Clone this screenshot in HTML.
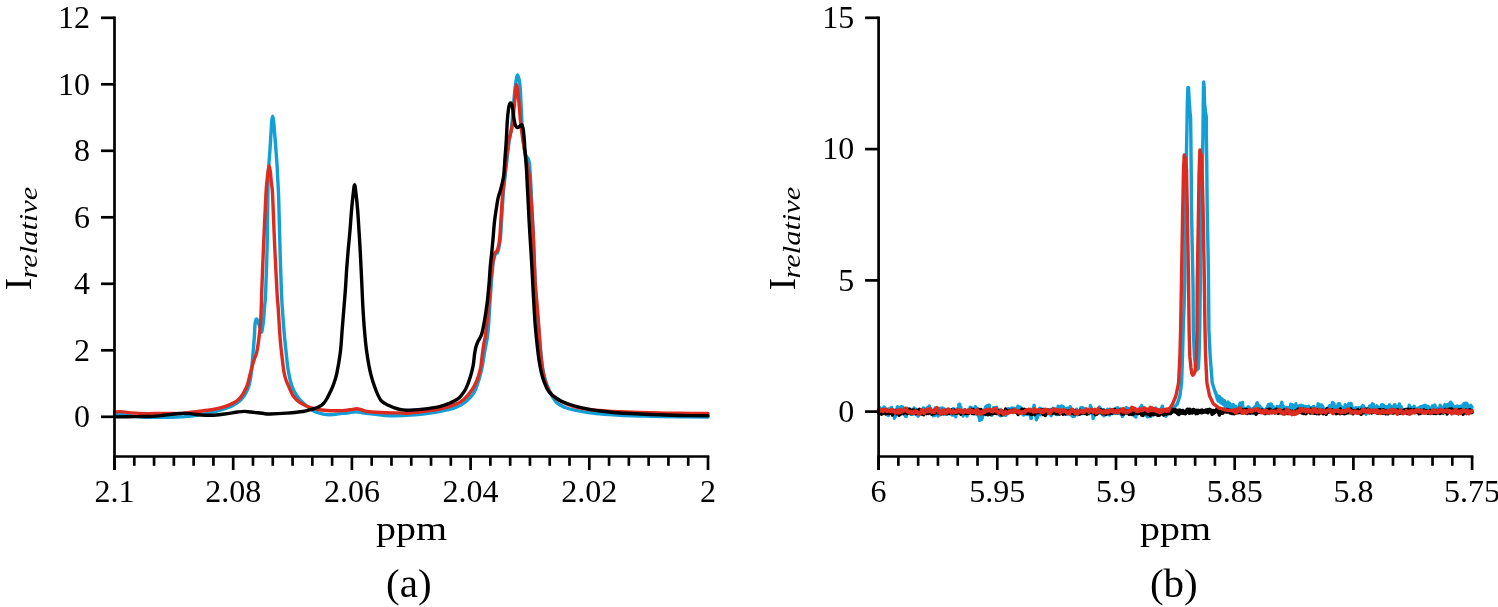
<!DOCTYPE html><html><head><meta charset="utf-8"><style>html,body{margin:0;padding:0;background:#fff;}svg{display:block;will-change:transform}</style></head><body>
<svg width="1498" height="607" viewBox="0 0 1498 607">
<rect width="1498" height="607" fill="#fff"/>
<path d="M114.50,414.50 C116.42,414.58 121.42,414.58 126.00,415.00 C130.58,415.42 135.77,416.60 142.00,417.00 C148.23,417.40 157.07,417.43 163.40,417.40 C169.73,417.37 176.40,416.93 180.00,416.80 C183.60,416.67 180.87,417.07 185.00,416.60 C189.13,416.13 199.97,414.80 204.80,414.00 C209.63,413.20 211.05,412.58 214.00,411.80 C216.95,411.02 219.42,410.33 222.50,409.30 C225.58,408.27 229.68,406.93 232.50,405.60 C235.32,404.27 237.48,402.90 239.40,401.30 C241.32,399.70 242.68,397.88 244.00,396.00 C245.32,394.12 246.40,392.00 247.30,390.00 C248.20,388.00 248.80,386.33 249.40,384.00 C250.00,381.67 250.52,378.50 250.90,376.00 C251.28,373.50 251.33,372.92 251.70,369.00 C252.07,365.08 252.65,358.00 253.10,352.50 C253.55,347.00 254.07,340.75 254.40,336.00 C254.73,331.25 254.77,326.83 255.10,324.00 C255.43,321.17 255.97,319.45 256.40,319.00 C256.83,318.55 257.18,320.13 257.70,321.30 C258.22,322.47 258.87,324.22 259.50,326.00 C260.13,327.78 261.00,331.67 261.50,332.00 C262.00,332.33 262.15,330.00 262.50,328.00 C262.85,326.00 263.25,323.60 263.60,320.00 C263.95,316.40 264.27,310.78 264.60,306.40 C264.93,302.02 265.17,304.05 265.60,293.70 C266.03,283.35 266.87,257.42 267.20,244.30 C267.53,231.18 267.47,225.35 267.60,215.00 C267.73,204.65 267.80,190.40 268.00,182.20 C268.20,174.00 268.47,171.28 268.80,165.80 C269.13,160.32 269.63,154.78 270.00,149.30 C270.37,143.82 270.70,137.62 271.00,132.90 C271.30,128.18 271.52,123.77 271.80,121.00 C272.08,118.23 272.40,116.30 272.70,116.30 C273.00,116.30 273.28,118.23 273.60,121.00 C273.92,123.77 274.22,128.18 274.60,132.90 C274.98,137.62 275.48,143.82 275.90,149.30 C276.32,154.78 276.77,160.32 277.10,165.80 C277.43,171.28 277.63,176.72 277.90,182.20 C278.17,187.68 278.37,188.35 278.70,198.70 C279.03,209.05 279.43,228.47 279.90,244.30 C280.37,260.13 280.95,281.08 281.50,293.70 C282.05,306.32 282.70,312.87 283.20,320.00 C283.70,327.13 284.00,331.00 284.50,336.50 C285.00,342.00 285.60,347.52 286.20,353.00 C286.80,358.48 287.17,363.92 288.10,369.40 C289.03,374.88 290.15,381.22 291.80,385.90 C293.45,390.58 295.58,394.20 298.00,397.50 C300.42,400.80 303.55,403.37 306.30,405.70 C309.05,408.03 311.77,410.12 314.50,411.50 C317.23,412.88 320.12,413.45 322.70,414.00 C325.28,414.55 326.75,414.90 330.00,414.80 C333.25,414.70 338.87,413.77 342.20,413.40 C345.53,413.03 347.58,412.88 350.00,412.60 C352.42,412.32 354.37,411.63 356.70,411.70 C359.03,411.77 360.85,412.57 364.00,413.00 C367.15,413.43 371.27,413.85 375.60,414.30 C379.93,414.75 384.85,415.53 390.00,415.70 C395.15,415.87 401.00,415.58 406.50,415.30 C412.00,415.02 417.52,414.63 423.00,414.00 C428.48,413.37 433.92,412.60 439.40,411.50 C444.88,410.40 451.50,409.03 455.90,407.40 C460.30,405.77 462.78,404.17 465.80,401.70 C468.82,399.23 471.80,396.32 474.00,392.60 C476.20,388.88 477.62,383.80 479.00,379.40 C480.38,375.00 481.35,370.87 482.30,366.20 C483.25,361.53 483.88,356.07 484.70,351.40 C485.52,346.73 486.55,342.60 487.20,338.20 C487.85,333.80 488.13,331.03 488.60,325.00 C489.07,318.97 489.55,308.83 490.00,302.00 C490.45,295.17 490.87,289.67 491.30,284.00 C491.73,278.33 492.15,272.25 492.60,268.00 C493.05,263.75 493.52,260.83 494.00,258.50 C494.48,256.17 494.92,255.00 495.50,254.00 C496.08,253.00 496.87,253.83 497.50,252.50 C498.13,251.17 498.80,248.58 499.30,246.00 C499.80,243.42 500.17,240.50 500.50,237.00 C500.83,233.50 500.85,232.12 501.30,225.00 C501.75,217.88 502.57,202.43 503.20,194.30 C503.83,186.17 504.45,182.20 505.10,176.20 C505.75,170.20 506.42,164.13 507.10,158.30 C507.78,152.47 508.47,146.25 509.20,141.20 C509.93,136.15 510.73,134.67 511.50,128.00 C512.27,121.33 513.13,108.42 513.80,101.20 C514.47,93.98 514.87,89.08 515.50,84.70 C516.13,80.32 516.87,74.90 517.60,74.90 C518.33,74.90 519.28,78.95 519.90,84.70 C520.52,90.45 520.85,101.15 521.30,109.40 C521.75,117.65 522.05,127.32 522.60,134.20 C523.15,141.08 523.95,146.98 524.60,150.70 C525.25,154.42 525.90,155.12 526.50,156.50 C527.10,157.88 527.70,157.75 528.20,159.00 C528.70,160.25 529.10,160.50 529.50,164.00 C529.90,167.50 530.22,173.17 530.60,180.00 C530.98,186.83 531.40,196.67 531.80,205.00 C532.20,213.33 532.60,220.83 533.00,230.00 C533.40,239.17 533.78,250.33 534.20,260.00 C534.62,269.67 535.00,279.67 535.50,288.00 C536.00,296.33 536.63,303.00 537.20,310.00 C537.77,317.00 538.33,323.33 538.90,330.00 C539.47,336.67 540.00,343.83 540.60,350.00 C541.20,356.17 541.77,362.17 542.50,367.00 C543.23,371.83 543.75,374.83 545.00,379.00 C546.25,383.17 548.08,388.08 550.00,392.00 C551.92,395.92 554.00,399.92 556.50,402.50 C559.00,405.08 561.93,406.22 565.00,407.50 C568.07,408.78 570.73,409.32 574.90,410.20 C579.07,411.08 584.98,412.12 590.00,412.80 C595.02,413.48 600.00,413.88 605.00,414.30 C610.00,414.72 614.17,415.02 620.00,415.30 C625.83,415.58 633.33,415.80 640.00,416.00 C646.67,416.20 648.67,416.33 660.00,416.50 C671.33,416.67 700.00,416.92 708.00,417.00" fill="none" stroke="#119fd6" stroke-width="3.40" stroke-linejoin="round" stroke-linecap="round"/>
<path d="M114.50,412.00 C115.53,411.93 117.88,411.45 120.70,411.60 C123.52,411.75 126.95,412.55 131.40,412.90 C135.85,413.25 142.95,413.62 147.40,413.70 C151.85,413.78 154.55,413.45 158.10,413.40 C161.65,413.35 165.05,413.37 168.70,413.40 C172.35,413.43 177.28,413.67 180.00,413.60 C182.72,413.53 181.97,413.37 185.00,413.00 C188.03,412.63 193.80,411.95 198.20,411.40 C202.60,410.85 207.57,410.32 211.40,409.70 C215.23,409.08 217.92,408.63 221.20,407.70 C224.48,406.77 228.35,405.35 231.10,404.10 C233.85,402.85 235.83,401.73 237.70,400.20 C239.57,398.67 240.98,396.77 242.30,394.90 C243.62,393.03 244.68,390.90 245.60,389.00 C246.52,387.10 247.10,385.75 247.80,383.50 C248.50,381.25 249.05,378.47 249.80,375.50 C250.55,372.53 251.53,368.45 252.30,365.70 C253.07,362.95 253.67,361.20 254.40,359.00 C255.13,356.80 255.97,355.78 256.70,352.50 C257.43,349.22 258.17,344.23 258.80,339.30 C259.43,334.37 260.08,328.38 260.50,322.90 C260.92,317.42 261.08,311.88 261.30,306.40 C261.52,300.92 261.42,300.35 261.80,290.00 C262.18,279.65 262.92,260.13 263.60,244.30 C264.28,228.47 265.35,205.35 265.90,195.00 C266.45,184.65 266.55,186.03 266.90,182.20 C267.25,178.37 267.62,174.77 268.00,172.00 C268.38,169.23 268.80,165.60 269.20,165.60 C269.60,165.60 270.05,169.23 270.40,172.00 C270.75,174.77 270.93,178.37 271.30,182.20 C271.67,186.03 272.05,184.65 272.60,195.00 C273.15,205.35 273.85,227.85 274.60,244.30 C275.35,260.75 276.52,283.35 277.10,293.70 C277.68,304.05 277.77,301.53 278.10,306.40 C278.43,311.27 278.75,317.42 279.10,322.90 C279.45,328.38 279.73,333.82 280.20,339.30 C280.67,344.78 281.27,350.32 281.90,355.80 C282.53,361.28 283.32,368.17 284.00,372.20 C284.68,376.23 285.25,377.72 286.00,380.00 C286.75,382.28 287.32,383.27 288.50,385.90 C289.68,388.53 291.23,393.05 293.10,395.80 C294.97,398.55 296.95,400.47 299.70,402.40 C302.45,404.33 306.32,406.17 309.60,407.40 C312.88,408.63 316.00,409.25 319.40,409.80 C322.80,410.35 326.20,410.57 330.00,410.70 C333.80,410.83 338.87,410.75 342.20,410.60 C345.53,410.45 347.58,410.10 350.00,409.80 C352.42,409.50 354.70,408.77 356.70,408.80 C358.70,408.83 359.97,409.52 362.00,410.00 C364.03,410.48 364.78,411.23 368.90,411.70 C373.02,412.17 381.52,412.60 386.70,412.80 C391.88,413.00 396.70,412.83 400.00,412.90 C403.30,412.97 402.67,413.43 406.50,413.20 C410.33,412.97 417.52,412.18 423.00,411.50 C428.48,410.82 433.92,410.33 439.40,409.10 C444.88,407.87 451.78,405.75 455.90,404.10 C460.02,402.45 461.35,401.67 464.10,399.20 C466.85,396.73 470.20,392.60 472.40,389.30 C474.60,386.00 475.93,382.97 477.30,379.40 C478.67,375.83 479.77,372.02 480.60,367.90 C481.43,363.78 481.75,358.82 482.30,354.70 C482.85,350.58 483.38,346.32 483.90,343.20 C484.42,340.08 484.85,339.77 485.40,336.00 C485.95,332.23 486.60,326.18 487.20,320.60 C487.80,315.02 488.48,308.53 489.00,302.50 C489.52,296.47 489.83,289.98 490.30,284.40 C490.77,278.82 491.38,272.73 491.80,269.00 C492.22,265.27 492.50,263.85 492.80,262.00 C493.10,260.15 493.25,259.40 493.60,257.90 C493.95,256.40 494.35,254.10 494.90,253.00 C495.45,251.90 496.28,252.53 496.90,251.30 C497.52,250.07 498.12,247.93 498.60,245.60 C499.08,243.27 499.47,240.73 499.80,237.30 C500.13,233.87 500.13,232.17 500.60,225.00 C501.07,217.83 501.95,202.43 502.60,194.30 C503.25,186.17 503.85,182.20 504.50,176.20 C505.15,170.20 505.82,164.13 506.50,158.30 C507.18,152.47 507.65,146.58 508.60,141.20 C509.55,135.82 511.18,132.67 512.20,126.00 C513.22,119.33 513.97,108.07 514.70,101.20 C515.43,94.33 515.92,84.80 516.60,84.80 C517.28,84.80 518.17,95.33 518.80,101.20 C519.43,107.07 519.80,114.12 520.40,120.00 C521.00,125.88 521.72,131.50 522.40,136.50 C523.08,141.50 523.82,145.87 524.50,150.00 C525.18,154.13 525.67,156.67 526.50,161.30 C527.33,165.93 528.82,172.30 529.50,177.80 C530.18,183.30 530.22,188.80 530.60,194.30 C530.98,199.80 531.40,204.85 531.80,210.80 C532.20,216.75 532.70,224.75 533.00,230.00 C533.30,235.25 533.35,236.40 533.60,242.30 C533.85,248.20 534.22,258.28 534.50,265.40 C534.78,272.52 534.90,278.73 535.30,285.00 C535.70,291.27 536.33,296.15 536.90,303.00 C537.47,309.85 538.13,318.42 538.70,326.10 C539.27,333.78 539.70,342.12 540.30,349.10 C540.90,356.08 541.35,362.18 542.30,368.00 C543.25,373.82 544.38,379.50 546.00,384.00 C547.62,388.50 549.50,392.08 552.00,395.00 C554.50,397.92 557.17,399.53 561.00,401.50 C564.83,403.47 570.00,405.42 575.00,406.80 C580.00,408.18 586.00,409.10 591.00,409.80 C596.00,410.50 600.17,410.67 605.00,411.00 C609.83,411.33 614.17,411.55 620.00,411.80 C625.83,412.05 633.33,412.30 640.00,412.50 C646.67,412.70 653.33,412.87 660.00,413.00 C666.67,413.13 672.00,413.22 680.00,413.30 C688.00,413.38 703.33,413.47 708.00,413.50" fill="none" stroke="#dd2c1f" stroke-width="3.40" stroke-linejoin="round" stroke-linecap="round"/>
<path d="M114.50,416.90 C118.20,416.85 130.33,416.68 136.70,416.60 C143.07,416.52 148.25,416.62 152.70,416.40 C157.15,416.18 159.83,415.70 163.40,415.30 C166.97,414.90 171.33,414.32 174.10,414.00 C176.87,413.68 177.35,413.47 180.00,413.40 C182.65,413.33 186.97,413.38 190.00,413.60 C193.03,413.82 194.63,414.42 198.20,414.70 C201.77,414.98 207.02,415.42 211.40,415.30 C215.78,415.18 220.12,414.55 224.50,414.00 C228.88,413.45 234.40,412.43 237.70,412.00 C241.00,411.57 242.10,411.40 244.30,411.40 C246.50,411.40 247.45,411.62 250.90,412.00 C254.35,412.38 261.82,413.37 265.00,413.70 C268.18,414.03 266.42,414.10 270.00,414.00 C273.58,413.90 281.00,413.52 286.50,413.10 C292.00,412.68 298.60,412.18 303.00,411.50 C307.40,410.82 310.17,409.83 312.90,409.00 C315.63,408.17 317.63,407.42 319.40,406.50 C321.17,405.58 322.23,404.83 323.50,403.50 C324.77,402.17 325.83,400.50 327.00,398.50 C328.17,396.50 329.45,393.75 330.50,391.50 C331.55,389.25 332.27,387.93 333.30,385.00 C334.33,382.07 335.52,379.45 336.70,373.90 C337.88,368.35 339.48,359.12 340.40,351.70 C341.32,344.28 341.60,336.82 342.20,329.40 C342.80,321.98 343.45,314.10 344.00,307.20 C344.55,300.30 345.05,294.42 345.50,288.00 C345.95,281.58 346.23,275.22 346.70,268.70 C347.17,262.18 347.73,255.48 348.30,248.90 C348.87,242.32 349.55,235.77 350.10,229.20 C350.65,222.63 351.05,215.70 351.60,209.50 C352.15,203.30 352.90,196.15 353.40,192.00 C353.90,187.85 354.20,184.60 354.60,184.60 C355.00,184.60 355.30,187.85 355.80,192.00 C356.30,196.15 357.08,203.30 357.60,209.50 C358.12,215.70 358.48,222.63 358.90,229.20 C359.32,235.77 359.73,242.32 360.10,248.90 C360.47,255.48 360.78,262.18 361.10,268.70 C361.42,275.22 361.70,281.58 362.00,288.00 C362.30,294.42 362.50,300.30 362.90,307.20 C363.30,314.10 363.77,321.98 364.40,329.40 C365.03,336.82 365.65,344.28 366.70,351.70 C367.75,359.12 369.22,367.62 370.70,373.90 C372.18,380.18 373.87,384.95 375.60,389.40 C377.33,393.85 378.88,397.92 381.10,400.60 C383.32,403.28 386.05,404.10 388.90,405.50 C391.75,406.90 395.27,408.22 398.20,409.00 C401.13,409.78 402.37,410.18 406.50,410.20 C410.63,410.22 417.52,409.70 423.00,409.10 C428.48,408.50 435.02,407.57 439.40,406.60 C443.78,405.63 446.28,404.53 449.30,403.30 C452.32,402.07 455.38,400.67 457.50,399.20 C459.62,397.73 460.58,396.30 462.00,394.50 C463.42,392.70 464.62,391.33 466.00,388.40 C467.38,385.47 469.10,380.73 470.30,376.90 C471.50,373.07 472.50,369.13 473.20,365.40 C473.90,361.67 474.07,357.48 474.50,354.50 C474.93,351.52 475.30,349.50 475.80,347.50 C476.30,345.50 476.83,344.05 477.50,342.50 C478.17,340.95 479.05,339.78 479.80,338.20 C480.55,336.62 481.22,335.93 482.00,333.00 C482.78,330.07 483.63,325.68 484.50,320.60 C485.37,315.52 486.45,308.53 487.20,302.50 C487.95,296.47 488.48,290.47 489.00,284.40 C489.52,278.33 489.87,271.20 490.30,266.10 C490.73,261.00 491.18,257.92 491.60,253.80 C492.02,249.68 492.32,246.78 492.80,241.40 C493.28,236.02 493.92,226.93 494.50,221.50 C495.08,216.07 495.70,212.72 496.30,208.80 C496.90,204.88 497.35,201.32 498.10,198.00 C498.85,194.68 499.88,192.53 500.80,188.90 C501.72,185.27 502.90,181.33 503.60,176.20 C504.30,171.07 504.55,164.13 505.00,158.10 C505.45,152.07 505.92,146.18 506.30,140.00 C506.68,133.82 506.93,126.17 507.30,121.00 C507.67,115.83 508.10,111.85 508.50,109.00 C508.90,106.15 509.32,104.90 509.70,103.90 C510.08,102.90 510.45,102.90 510.80,103.00 C511.15,103.10 511.45,103.33 511.80,104.50 C512.15,105.67 512.53,107.58 512.90,110.00 C513.27,112.42 513.57,116.42 514.00,119.00 C514.43,121.58 514.92,124.08 515.50,125.50 C516.08,126.92 516.83,127.33 517.50,127.50 C518.17,127.67 518.82,126.98 519.50,126.50 C520.18,126.02 521.02,124.35 521.60,124.60 C522.18,124.85 522.60,126.02 523.00,128.00 C523.40,129.98 523.63,132.33 524.00,136.50 C524.37,140.67 524.78,147.50 525.20,153.00 C525.62,158.50 526.15,164.00 526.50,169.50 C526.85,175.00 527.02,180.50 527.30,186.00 C527.58,191.50 527.92,197.00 528.20,202.50 C528.48,208.00 528.63,212.37 529.00,219.00 C529.37,225.63 529.93,234.57 530.40,242.30 C530.87,250.03 531.37,257.70 531.80,265.40 C532.23,273.10 532.67,282.23 533.00,288.50 C533.33,294.77 533.42,296.73 533.80,303.00 C534.18,309.27 534.67,318.42 535.30,326.10 C535.93,333.78 536.85,342.62 537.60,349.10 C538.35,355.58 538.98,360.35 539.80,365.00 C540.62,369.65 541.35,373.17 542.50,377.00 C543.65,380.83 545.37,385.25 546.70,388.00 C548.03,390.75 549.05,391.92 550.50,393.50 C551.95,395.08 553.48,396.17 555.40,397.50 C557.32,398.83 559.57,400.33 562.00,401.50 C564.43,402.67 567.00,403.53 570.00,404.50 C573.00,405.47 576.50,406.45 580.00,407.30 C583.50,408.15 586.83,408.90 591.00,409.60 C595.17,410.30 600.17,410.93 605.00,411.50 C609.83,412.07 614.17,412.58 620.00,413.00 C625.83,413.42 633.33,413.70 640.00,414.00 C646.67,414.30 653.33,414.55 660.00,414.80 C666.67,415.05 672.00,415.33 680.00,415.50 C688.00,415.67 703.33,415.75 708.00,415.80" fill="none" stroke="#000" stroke-width="3.40" stroke-linejoin="round" stroke-linecap="round"/>
<path d="M878.60,411.18 L878.85,409.84 L879.10,411.01 L879.35,408.00 L879.60,407.62 L879.85,412.79 L880.10,410.45 L880.35,409.79 L880.60,412.05 L880.85,413.26 L881.10,409.26 L881.35,410.86 L881.60,412.26 L881.85,409.69 L882.10,411.19 L882.35,410.20 L882.60,409.79 L882.85,408.43 L883.10,410.23 L883.35,409.08 L883.60,408.55 L883.85,408.31 L884.10,406.99 L884.35,410.31 L884.60,411.96 L884.85,407.98 L885.10,409.64 L885.35,410.69 L885.60,412.47 L885.85,410.32 L886.10,410.03 L886.35,411.70 L886.60,411.29 L886.85,411.87 L887.10,409.66 L887.35,413.27 L887.60,412.05 L887.85,411.67 L888.10,413.71 L888.35,415.49 L888.60,408.92 L888.85,411.83 L889.10,409.27 L889.35,409.01 L889.60,410.66 L889.85,412.00 L890.10,410.85 L890.35,410.19 L890.60,408.19 L890.85,410.74 L891.10,410.63 L891.35,408.62 L891.60,407.48 L891.85,413.53 L892.10,410.13 L892.35,412.35 L892.60,411.65 L892.85,411.55 L893.10,413.75 L893.35,413.96 L893.60,415.14 L893.85,413.59 L894.10,412.65 L894.35,418.19 L894.60,415.27 L894.85,416.14 L895.10,416.97 L895.35,414.95 L895.60,412.38 L895.85,409.36 L896.10,410.26 L896.35,413.76 L896.60,412.65 L896.85,412.41 L897.10,408.86 L897.35,406.74 L897.60,407.98 L897.85,408.04 L898.10,411.44 L898.35,408.01 L898.60,411.29 L898.85,408.39 L899.10,409.03 L899.35,410.13 L899.60,408.79 L899.85,407.40 L900.10,409.57 L900.35,410.46 L900.60,407.16 L900.85,408.97 L901.10,407.91 L901.35,406.69 L901.60,410.41 L901.85,410.47 L902.10,410.76 L902.35,410.92 L902.60,406.84 L902.85,409.86 L903.10,408.84 L903.35,408.68 L903.60,411.19 L903.85,413.40 L904.10,411.57 L904.35,414.24 L904.60,411.54 L904.85,409.00 L905.10,413.80 L905.35,415.95 L905.60,413.65 L905.85,412.56 L906.10,416.63 L906.35,412.02 L906.60,412.57 L906.85,408.57 L907.10,409.27 L907.35,408.45 L907.60,413.36 L907.85,412.87 L908.10,410.01 L908.35,409.59 L908.60,411.77 L908.85,411.44 L909.10,409.00 L909.35,409.25 L909.60,411.13 L909.85,413.42 L910.10,411.56 L910.35,413.16 L910.60,411.89 L910.85,409.58 L911.10,414.30 L911.35,412.16 L911.60,413.81 L911.85,412.50 L912.10,413.44 L912.35,411.43 L912.60,414.25 L912.85,411.61 L913.10,410.96 L913.35,412.44 L913.60,413.66 L913.85,411.45 L914.10,407.92 L914.35,409.12 L914.60,413.08 L914.85,410.40 L915.10,411.27 L915.35,411.27 L915.60,409.48 L915.85,409.24 L916.10,410.45 L916.35,414.17 L916.60,411.92 L916.85,413.63 L917.10,412.03 L917.35,415.14 L917.60,413.91 L917.85,412.67 L918.10,416.25 L918.35,413.45 L918.60,415.43 L918.85,413.66 L919.10,414.62 L919.35,414.17 L919.60,412.85 L919.85,413.83 L920.10,412.44 L920.35,412.52 L920.60,410.10 L920.85,411.09 L921.10,411.02 L921.35,413.89 L921.60,413.62 L921.85,410.41 L922.10,411.84 L922.35,409.67 L922.60,411.34 L922.85,409.77 L923.10,408.25 L923.35,409.78 L923.60,407.91 L923.85,410.46 L924.10,410.17 L924.35,409.15 L924.60,410.24 L924.85,411.19 L925.10,409.37 L925.35,410.77 L925.60,409.84 L925.85,411.76 L926.10,410.01 L926.35,410.86 L926.60,411.56 L926.85,413.42 L927.10,412.67 L927.35,412.06 L927.60,407.42 L927.85,409.07 L928.10,411.70 L928.35,409.82 L928.60,413.52 L928.85,410.11 L929.10,409.91 L929.35,405.94 L929.60,409.81 L929.85,409.71 L930.10,412.66 L930.35,409.55 L930.60,409.75 L930.85,408.77 L931.10,410.11 L931.35,412.29 L931.60,411.25 L931.85,413.20 L932.10,413.20 L932.35,411.98 L932.60,414.12 L932.85,414.09 L933.10,412.13 L933.35,415.89 L933.60,413.38 L933.85,411.42 L934.10,413.66 L934.35,413.01 L934.60,413.77 L934.85,415.45 L935.10,407.95 L935.35,412.95 L935.60,414.38 L935.85,409.58 L936.10,407.94 L936.35,411.57 L936.60,411.58 L936.85,412.45 L937.10,410.69 L937.35,411.56 L937.60,413.46 L937.85,414.57 L938.10,416.01 L938.35,412.89 L938.60,411.90 L938.85,408.78 L939.10,415.02 L939.35,412.82 L939.60,411.84 L939.85,410.22 L940.10,412.86 L940.35,408.11 L940.60,412.14 L940.85,412.75 L941.10,413.68 L941.35,414.10 L941.60,412.20 L941.85,411.50 L942.10,412.08 L942.35,407.83 L942.60,411.03 L942.85,411.72 L943.10,413.95 L943.35,411.66 L943.60,413.99 L943.85,412.24 L944.10,408.92 L944.35,408.91 L944.60,409.12 L944.85,411.59 L945.10,412.02 L945.35,414.24 L945.60,413.32 L945.85,409.82 L946.10,412.25 L946.35,411.29 L946.60,410.47 L946.85,410.66 L947.10,409.65 L947.35,411.59 L947.60,409.71 L947.85,410.61 L948.10,412.26 L948.35,412.94 L948.60,411.71 L948.85,412.01 L949.10,411.66 L949.35,413.75 L949.60,412.85 L949.85,411.77 L950.10,413.88 L950.35,413.97 L950.60,412.33 L950.85,410.65 L951.10,412.93 L951.35,413.89 L951.60,410.56 L951.85,410.63 L952.10,411.91 L952.35,415.05 L952.60,410.32 L952.85,411.85 L953.10,410.29 L953.35,408.70 L953.60,410.32 L953.85,410.78 L954.10,413.59 L954.35,413.97 L954.60,415.16 L954.85,412.41 L955.10,413.50 L955.35,412.63 L955.60,413.73 L955.85,416.77 L956.10,412.70 L956.35,413.80 L956.60,413.01 L956.85,410.08 L957.10,410.59 L957.35,408.89 L957.60,410.13 L957.85,409.96 L958.10,409.07 L958.35,407.26 L958.60,408.99 L958.85,404.58 L959.10,404.46 L959.35,405.73 L959.60,404.18 L959.85,404.71 L960.10,406.89 L960.35,407.73 L960.60,410.38 L960.85,407.30 L961.10,414.42 L961.35,412.82 L961.60,410.13 L961.85,412.93 L962.10,411.37 L962.35,414.36 L962.60,412.11 L962.85,413.55 L963.10,415.96 L963.35,415.22 L963.60,414.48 L963.85,413.59 L964.10,413.57 L964.35,413.40 L964.60,412.51 L964.85,412.61 L965.10,412.66 L965.35,409.99 L965.60,413.32 L965.85,413.25 L966.10,413.29 L966.35,413.10 L966.60,413.28 L966.85,413.27 L967.10,416.03 L967.35,412.55 L967.60,411.16 L967.85,413.00 L968.10,411.80 L968.35,410.07 L968.60,412.95 L968.85,410.62 L969.10,410.01 L969.35,410.57 L969.60,410.06 L969.85,409.85 L970.10,407.09 L970.35,407.57 L970.60,410.26 L970.85,411.13 L971.10,411.26 L971.35,410.97 L971.60,409.28 L971.85,408.12 L972.10,408.14 L972.35,409.99 L972.60,409.15 L972.85,411.32 L973.10,408.17 L973.35,408.41 L973.60,410.75 L973.85,409.25 L974.10,414.04 L974.35,409.56 L974.60,410.47 L974.85,409.65 L975.10,408.01 L975.35,406.75 L975.60,407.64 L975.85,411.22 L976.10,411.89 L976.35,413.28 L976.60,407.93 L976.85,411.56 L977.10,411.03 L977.35,412.69 L977.60,410.62 L977.85,413.17 L978.10,413.39 L978.35,414.26 L978.60,416.15 L978.85,414.18 L979.10,417.73 L979.35,415.52 L979.60,420.39 L979.85,413.71 L980.10,418.13 L980.35,417.20 L980.60,418.42 L980.85,419.64 L981.10,418.60 L981.35,417.48 L981.60,419.59 L981.85,414.63 L982.10,415.10 L982.35,418.17 L982.60,415.03 L982.85,410.14 L983.10,413.69 L983.35,410.85 L983.60,414.39 L983.85,413.61 L984.10,410.73 L984.35,412.56 L984.60,409.87 L984.85,411.89 L985.10,410.80 L985.35,409.13 L985.60,407.06 L985.85,409.42 L986.10,406.27 L986.35,409.11 L986.60,407.37 L986.85,410.73 L987.10,407.27 L987.35,405.70 L987.60,410.54 L987.85,410.01 L988.10,408.24 L988.35,412.61 L988.60,410.34 L988.85,409.32 L989.10,408.32 L989.35,405.07 L989.60,411.19 L989.85,412.48 L990.10,412.21 L990.35,411.56 L990.60,412.91 L990.85,410.67 L991.10,413.22 L991.35,414.48 L991.60,415.28 L991.85,413.28 L992.10,413.93 L992.35,413.78 L992.60,414.18 L992.85,410.47 L993.10,408.90 L993.35,409.08 L993.60,407.69 L993.85,407.85 L994.10,407.70 L994.35,408.01 L994.60,409.08 L994.85,409.02 L995.10,408.87 L995.35,408.91 L995.60,409.92 L995.85,410.18 L996.10,410.50 L996.35,407.67 L996.60,407.23 L996.85,411.14 L997.10,409.09 L997.35,411.30 L997.60,410.61 L997.85,413.20 L998.10,410.87 L998.35,409.89 L998.60,412.27 L998.85,412.24 L999.10,414.49 L999.35,412.84 L999.60,414.61 L999.85,415.45 L1000.10,415.57 L1000.35,414.42 L1000.60,415.83 L1000.85,412.82 L1001.10,413.09 L1001.35,412.65 L1001.60,414.02 L1001.85,413.25 L1002.10,413.92 L1002.35,412.19 L1002.60,412.95 L1002.85,411.25 L1003.10,412.00 L1003.35,411.23 L1003.60,413.45 L1003.85,413.99 L1004.10,415.04 L1004.35,413.04 L1004.60,412.28 L1004.85,413.06 L1005.10,413.42 L1005.35,413.46 L1005.60,415.41 L1005.85,412.43 L1006.10,414.98 L1006.35,414.49 L1006.60,410.52 L1006.85,413.78 L1007.10,413.27 L1007.35,412.92 L1007.60,410.94 L1007.85,411.88 L1008.10,408.71 L1008.35,409.72 L1008.60,409.91 L1008.85,412.18 L1009.10,408.86 L1009.35,410.31 L1009.60,409.18 L1009.85,409.32 L1010.10,409.63 L1010.35,410.77 L1010.60,408.59 L1010.85,411.30 L1011.10,409.32 L1011.35,408.54 L1011.60,409.42 L1011.85,408.73 L1012.10,408.56 L1012.35,408.03 L1012.60,410.85 L1012.85,411.52 L1013.10,408.71 L1013.35,410.87 L1013.60,408.29 L1013.85,410.95 L1014.10,410.56 L1014.35,411.52 L1014.60,410.68 L1014.85,411.92 L1015.10,411.36 L1015.35,412.03 L1015.60,410.25 L1015.85,410.69 L1016.10,408.78 L1016.35,411.82 L1016.60,412.23 L1016.85,409.62 L1017.10,411.01 L1017.35,409.22 L1017.60,407.90 L1017.85,406.13 L1018.10,411.21 L1018.35,406.53 L1018.60,410.64 L1018.85,408.82 L1019.10,410.41 L1019.35,408.18 L1019.60,408.70 L1019.85,409.53 L1020.10,409.19 L1020.35,407.30 L1020.60,410.92 L1020.85,409.50 L1021.10,410.24 L1021.35,408.33 L1021.60,408.25 L1021.85,408.80 L1022.10,409.08 L1022.35,411.51 L1022.60,411.47 L1022.85,414.23 L1023.10,411.29 L1023.35,412.25 L1023.60,415.13 L1023.85,411.74 L1024.10,412.56 L1024.35,413.33 L1024.60,411.96 L1024.85,411.57 L1025.10,414.24 L1025.35,413.48 L1025.60,412.33 L1025.85,411.01 L1026.10,411.54 L1026.35,412.61 L1026.60,410.03 L1026.85,409.82 L1027.10,413.65 L1027.35,414.49 L1027.60,413.90 L1027.85,411.33 L1028.10,413.16 L1028.35,411.00 L1028.60,411.88 L1028.85,410.81 L1029.10,412.23 L1029.35,414.38 L1029.60,413.11 L1029.85,412.27 L1030.10,413.80 L1030.35,415.99 L1030.60,415.93 L1030.85,418.25 L1031.10,417.77 L1031.35,418.41 L1031.60,411.42 L1031.85,412.26 L1032.10,411.25 L1032.35,413.46 L1032.60,414.69 L1032.85,411.30 L1033.10,411.73 L1033.35,413.18 L1033.60,406.65 L1033.85,410.21 L1034.10,405.30 L1034.35,411.63 L1034.60,412.14 L1034.85,413.27 L1035.10,414.43 L1035.35,414.44 L1035.60,416.32 L1035.85,415.86 L1036.10,416.71 L1036.35,419.76 L1036.60,415.33 L1036.85,416.67 L1037.10,413.44 L1037.35,418.18 L1037.60,415.35 L1037.85,413.18 L1038.10,413.90 L1038.35,414.93 L1038.60,413.65 L1038.85,412.31 L1039.10,411.70 L1039.35,412.54 L1039.60,408.10 L1039.85,408.96 L1040.10,411.57 L1040.35,411.57 L1040.60,412.53 L1040.85,414.80 L1041.10,410.92 L1041.35,411.21 L1041.60,408.92 L1041.85,410.82 L1042.10,410.76 L1042.35,409.89 L1042.60,411.51 L1042.85,412.95 L1043.10,410.40 L1043.35,411.31 L1043.60,409.31 L1043.85,413.69 L1044.10,409.35 L1044.35,409.33 L1044.60,412.71 L1044.85,410.72 L1045.10,411.54 L1045.35,409.51 L1045.60,412.46 L1045.85,410.92 L1046.10,410.23 L1046.35,411.61 L1046.60,410.42 L1046.85,412.73 L1047.10,414.01 L1047.35,410.16 L1047.60,409.73 L1047.85,412.13 L1048.10,413.35 L1048.35,410.02 L1048.60,411.83 L1048.85,412.61 L1049.10,413.71 L1049.35,413.26 L1049.60,409.89 L1049.85,410.51 L1050.10,412.53 L1050.35,409.44 L1050.60,414.37 L1050.85,413.10 L1051.10,415.70 L1051.35,414.03 L1051.60,411.43 L1051.85,410.64 L1052.10,409.62 L1052.35,409.59 L1052.60,410.98 L1052.85,413.70 L1053.10,408.18 L1053.35,410.63 L1053.60,412.11 L1053.85,411.12 L1054.10,409.32 L1054.35,409.65 L1054.60,410.17 L1054.85,409.27 L1055.10,413.73 L1055.35,412.09 L1055.60,410.44 L1055.85,409.31 L1056.10,410.29 L1056.35,411.73 L1056.60,414.62 L1056.85,411.62 L1057.10,411.69 L1057.35,412.51 L1057.60,411.61 L1057.85,409.37 L1058.10,406.15 L1058.35,411.70 L1058.60,410.79 L1058.85,409.52 L1059.10,409.25 L1059.35,407.69 L1059.60,407.40 L1059.85,407.02 L1060.10,410.05 L1060.35,409.65 L1060.60,408.68 L1060.85,409.21 L1061.10,408.72 L1061.35,408.41 L1061.60,406.02 L1061.85,408.82 L1062.10,408.98 L1062.35,408.53 L1062.60,408.98 L1062.85,406.58 L1063.10,406.46 L1063.35,409.85 L1063.60,407.59 L1063.85,409.29 L1064.10,409.16 L1064.35,409.72 L1064.60,410.74 L1064.85,410.71 L1065.10,408.47 L1065.35,414.29 L1065.60,412.33 L1065.85,409.30 L1066.10,410.67 L1066.35,408.82 L1066.60,410.67 L1066.85,408.27 L1067.10,412.15 L1067.35,414.18 L1067.60,411.25 L1067.85,410.82 L1068.10,411.40 L1068.35,408.48 L1068.60,412.90 L1068.85,407.99 L1069.10,409.53 L1069.35,408.79 L1069.60,411.08 L1069.85,407.56 L1070.10,406.73 L1070.35,407.30 L1070.60,409.32 L1070.85,410.70 L1071.10,412.93 L1071.35,415.18 L1071.60,415.36 L1071.85,413.32 L1072.10,413.93 L1072.35,416.00 L1072.60,413.98 L1072.85,413.07 L1073.10,416.51 L1073.35,415.93 L1073.60,414.61 L1073.85,413.00 L1074.10,412.87 L1074.35,416.23 L1074.60,412.15 L1074.85,413.11 L1075.10,411.33 L1075.35,411.85 L1075.60,412.14 L1075.85,411.08 L1076.10,411.75 L1076.35,410.54 L1076.60,409.19 L1076.85,410.50 L1077.10,412.12 L1077.35,414.83 L1077.60,411.54 L1077.85,410.71 L1078.10,411.15 L1078.35,411.48 L1078.60,413.45 L1078.85,411.43 L1079.10,414.13 L1079.35,413.31 L1079.60,412.46 L1079.85,411.12 L1080.10,411.91 L1080.35,411.39 L1080.60,412.35 L1080.85,407.71 L1081.10,412.06 L1081.35,411.98 L1081.60,411.73 L1081.85,413.71 L1082.10,411.75 L1082.35,407.42 L1082.60,409.85 L1082.85,411.00 L1083.10,409.90 L1083.35,408.08 L1083.60,409.30 L1083.85,409.41 L1084.10,409.38 L1084.35,410.68 L1084.60,409.42 L1084.85,410.59 L1085.10,410.99 L1085.35,413.18 L1085.60,409.30 L1085.85,411.01 L1086.10,413.42 L1086.35,411.49 L1086.60,411.65 L1086.85,414.13 L1087.10,412.42 L1087.35,411.86 L1087.60,410.38 L1087.85,412.25 L1088.10,413.30 L1088.35,413.60 L1088.60,411.32 L1088.85,411.14 L1089.10,413.25 L1089.35,413.62 L1089.60,413.22 L1089.85,409.24 L1090.10,410.25 L1090.35,405.53 L1090.60,408.85 L1090.85,407.59 L1091.10,407.20 L1091.35,410.94 L1091.60,411.34 L1091.85,410.83 L1092.10,411.47 L1092.35,412.27 L1092.60,412.82 L1092.85,415.08 L1093.10,418.63 L1093.35,414.13 L1093.60,414.56 L1093.85,416.08 L1094.10,416.02 L1094.35,415.75 L1094.60,412.67 L1094.85,413.32 L1095.10,411.80 L1095.35,410.66 L1095.60,413.80 L1095.85,412.92 L1096.10,413.97 L1096.35,413.63 L1096.60,411.74 L1096.85,412.03 L1097.10,410.40 L1097.35,409.69 L1097.60,409.44 L1097.85,411.81 L1098.10,409.73 L1098.35,408.46 L1098.60,409.17 L1098.85,409.94 L1099.10,411.35 L1099.35,407.07 L1099.60,408.64 L1099.85,408.90 L1100.10,407.90 L1100.35,410.61 L1100.60,409.23 L1100.85,409.35 L1101.10,413.47 L1101.35,410.46 L1101.60,412.50 L1101.85,413.12 L1102.10,411.31 L1102.35,412.02 L1102.60,414.71 L1102.85,413.01 L1103.10,411.48 L1103.35,409.81 L1103.60,412.80 L1103.85,413.65 L1104.10,415.71 L1104.35,414.52 L1104.60,412.90 L1104.85,411.74 L1105.10,411.58 L1105.35,410.75 L1105.60,411.66 L1105.85,411.79 L1106.10,411.86 L1106.35,412.03 L1106.60,411.23 L1106.85,410.16 L1107.10,412.43 L1107.35,414.37 L1107.60,409.18 L1107.85,411.69 L1108.10,411.78 L1108.35,412.04 L1108.60,413.07 L1108.85,412.89 L1109.10,412.09 L1109.35,414.95 L1109.60,415.05 L1109.85,410.47 L1110.10,409.11 L1110.35,412.06 L1110.60,410.47 L1110.85,412.22 L1111.10,410.43 L1111.35,413.29 L1111.60,412.05 L1111.85,409.62 L1112.10,410.48 L1112.35,413.45 L1112.60,412.12 L1112.85,413.18 L1113.10,410.67 L1113.35,411.77 L1113.60,410.54 L1113.85,412.85 L1114.10,411.61 L1114.35,410.28 L1114.60,410.96 L1114.85,408.93 L1115.10,412.03 L1115.35,413.24 L1115.60,410.66 L1115.85,412.30 L1116.10,408.20 L1116.35,411.02 L1116.60,411.31 L1116.85,410.00 L1117.10,412.81 L1117.35,409.71 L1117.60,407.59 L1117.85,408.72 L1118.10,412.20 L1118.35,410.83 L1118.60,413.19 L1118.85,409.26 L1119.10,410.84 L1119.35,412.22 L1119.60,410.75 L1119.85,412.08 L1120.10,408.92 L1120.35,410.10 L1120.60,411.35 L1120.85,414.14 L1121.10,410.13 L1121.35,413.91 L1121.60,414.88 L1121.85,411.61 L1122.10,412.91 L1122.35,416.60 L1122.60,414.66 L1122.85,409.07 L1123.10,413.25 L1123.35,412.16 L1123.60,414.93 L1123.85,412.73 L1124.10,412.91 L1124.35,411.27 L1124.60,412.06 L1124.85,410.27 L1125.10,409.95 L1125.35,411.07 L1125.60,411.15 L1125.85,409.01 L1126.10,410.80 L1126.35,407.54 L1126.60,410.37 L1126.85,409.90 L1127.10,413.38 L1127.35,409.79 L1127.60,410.12 L1127.85,409.23 L1128.10,413.09 L1128.35,410.97 L1128.60,408.53 L1128.85,410.53 L1129.10,409.86 L1129.35,414.10 L1129.60,412.98 L1129.85,409.03 L1130.10,412.10 L1130.35,413.25 L1130.60,411.65 L1130.85,412.16 L1131.10,410.46 L1131.35,412.16 L1131.60,411.61 L1131.85,410.98 L1132.10,412.17 L1132.35,412.27 L1132.60,412.27 L1132.85,410.17 L1133.10,409.84 L1133.35,412.42 L1133.60,413.10 L1133.85,408.55 L1134.10,411.65 L1134.35,415.93 L1134.60,415.19 L1134.85,413.07 L1135.10,415.46 L1135.35,412.31 L1135.60,413.07 L1135.85,417.01 L1136.10,413.38 L1136.35,413.93 L1136.60,411.29 L1136.85,411.22 L1137.10,410.91 L1137.35,412.40 L1137.60,409.59 L1137.85,413.37 L1138.10,411.26 L1138.35,410.62 L1138.60,410.87 L1138.85,412.41 L1139.10,412.51 L1139.35,409.36 L1139.60,412.50 L1139.85,412.37 L1140.10,412.23 L1140.35,410.05 L1140.60,406.97 L1140.85,409.62 L1141.10,407.84 L1141.35,408.74 L1141.60,405.55 L1141.85,407.55 L1142.10,408.10 L1142.35,407.03 L1142.60,409.31 L1142.85,411.92 L1143.10,410.51 L1143.35,409.90 L1143.60,414.66 L1143.85,408.13 L1144.10,410.82 L1144.35,413.51 L1144.60,411.20 L1144.85,409.09 L1145.10,412.27 L1145.35,413.88 L1145.60,412.06 L1145.85,415.21 L1146.10,414.16 L1146.35,414.23 L1146.60,411.03 L1146.85,413.56 L1147.10,415.85 L1147.35,416.95 L1147.60,415.24 L1147.85,413.93 L1148.10,414.98 L1148.35,414.16 L1148.60,416.54 L1148.85,412.97 L1149.10,415.35 L1149.35,411.55 L1149.60,412.68 L1149.85,416.59 L1150.10,413.89 L1150.35,413.93 L1150.60,408.63 L1150.85,412.26 L1151.10,416.21 L1151.35,410.67 L1151.60,409.87 L1151.85,413.22 L1152.10,412.84 L1152.35,411.73 L1152.60,410.03 L1152.85,409.79 L1153.10,410.11 L1153.35,412.99 L1153.60,411.76 L1153.85,414.07 L1154.10,410.81 L1154.35,411.80 L1154.60,409.53 L1154.85,409.40 L1155.10,409.70 L1155.35,408.59 L1155.60,409.16 L1155.85,408.10 L1156.10,411.43 L1156.35,411.77 L1156.60,410.42 L1156.85,411.67 L1157.10,409.16 L1157.35,409.75 L1157.60,413.07 L1157.85,413.86 L1158.10,412.86 L1158.35,411.06 L1158.60,413.53 L1158.85,411.02 L1159.10,411.86 L1159.35,413.62 L1159.60,411.23 L1159.85,410.45 L1160.10,412.53 L1160.35,409.27 L1160.60,411.09 L1160.85,410.29 L1161.10,411.63 L1161.35,408.16 L1161.60,411.41 L1161.85,411.21 L1162.10,406.71 L1162.35,406.15 L1162.60,409.88 L1162.85,414.27 L1163.10,411.81 L1163.35,413.48 L1163.60,413.78 L1163.85,414.73 L1164.10,413.00 L1164.35,413.32 L1164.60,414.40 L1164.85,415.13 L1165.10,414.75 L1165.35,414.74 L1165.60,414.36 L1165.85,416.31 L1166.10,414.67 L1166.35,415.39 L1166.60,409.43 L1166.85,415.06 L1167.10,409.08 L1167.35,413.24 L1167.60,412.22 L1167.85,413.93 L1169.00,409.60 L1172.60,408.50 L1175.00,406.50 L1177.30,403.90 L1179.90,396.00 L1181.60,382.80 L1182.50,356.40 L1183.20,330.00 L1184.30,300.00 L1184.80,280.00 L1185.00,240.00 L1185.30,209.50 L1186.30,160.00 L1187.00,125.00 L1187.40,100.00 L1187.90,87.50 L1188.60,88.00 L1189.10,100.00 L1190.00,112.00 L1190.60,118.00 L1190.90,140.00 L1191.30,180.00 L1191.50,209.50 L1192.30,250.00 L1193.10,290.00 L1193.30,330.00 L1194.40,356.40 L1195.50,366.00 L1197.00,369.80 L1198.40,368.30 L1199.00,356.40 L1199.70,330.00 L1200.40,280.00 L1200.80,209.50 L1202.20,170.00 L1202.90,140.00 L1203.20,110.00 L1203.40,90.00 L1203.70,82.00 L1204.20,88.00 L1204.50,103.00 L1205.50,112.00 L1206.30,117.00 L1206.30,131.00 L1206.70,159.00 L1207.20,209.50 L1208.40,270.00 L1208.90,330.00 L1210.20,356.40 L1212.20,382.80 L1215.50,393.30 L1215.75,392.37 L1216.00,393.66 L1216.25,394.92 L1216.50,396.50 L1216.75,396.91 L1217.00,395.11 L1217.25,399.07 L1217.50,396.87 L1217.75,399.65 L1218.00,400.57 L1218.25,400.89 L1218.50,398.97 L1218.75,400.21 L1219.00,397.31 L1219.25,396.47 L1219.50,399.10 L1219.75,401.18 L1220.00,401.54 L1220.25,400.41 L1220.50,402.32 L1220.75,401.56 L1221.00,403.08 L1221.25,398.25 L1221.50,399.81 L1221.75,399.60 L1222.00,399.55 L1222.25,403.57 L1222.50,400.11 L1222.75,399.87 L1223.00,400.96 L1223.25,404.01 L1223.50,402.17 L1223.75,404.54 L1224.00,404.11 L1224.25,402.67 L1224.50,400.62 L1224.75,403.28 L1225.00,402.53 L1225.25,407.11 L1225.50,403.72 L1225.75,403.52 L1226.00,405.87 L1226.25,405.33 L1226.50,404.16 L1226.75,407.35 L1227.00,406.56 L1227.25,405.99 L1227.50,404.58 L1227.75,404.04 L1228.00,402.04 L1228.25,406.36 L1228.50,406.11 L1228.75,404.05 L1229.00,405.64 L1229.25,411.35 L1229.50,404.55 L1229.75,403.37 L1230.00,406.66 L1230.25,405.66 L1230.50,405.67 L1230.50,407.13 L1230.80,407.99 L1231.10,408.12 L1231.40,405.30 L1231.70,407.85 L1232.00,408.41 L1232.30,408.41 L1232.60,407.23 L1232.90,406.90 L1233.20,404.34 L1233.50,407.04 L1233.80,406.27 L1234.10,407.59 L1234.40,407.27 L1234.70,409.24 L1235.00,408.15 L1235.30,406.71 L1235.60,406.24 L1235.90,407.77 L1236.20,410.23 L1236.50,409.83 L1236.80,411.53 L1237.10,407.95 L1237.40,409.75 L1237.70,407.71 L1238.00,409.17 L1238.30,409.53 L1238.60,408.36 L1238.90,409.17 L1239.20,407.71 L1239.50,404.42 L1239.80,404.90 L1240.10,403.21 L1240.40,406.26 L1240.70,405.52 L1241.00,407.27 L1241.30,406.09 L1241.60,403.02 L1241.90,406.04 L1242.20,405.19 L1242.50,402.37 L1242.80,407.04 L1243.10,408.75 L1243.40,410.46 L1243.70,408.38 L1244.00,409.24 L1244.30,408.95 L1244.60,408.60 L1244.90,409.76 L1245.20,410.86 L1245.50,411.00 L1245.80,411.96 L1246.10,409.72 L1246.40,408.53 L1246.70,413.00 L1247.00,411.52 L1247.30,408.81 L1247.60,408.94 L1247.90,409.56 L1248.20,406.67 L1248.50,408.03 L1248.80,411.70 L1249.10,409.72 L1249.40,408.57 L1249.70,411.81 L1250.00,408.30 L1250.30,409.50 L1250.60,409.72 L1250.90,411.06 L1251.20,409.49 L1251.50,410.39 L1251.80,411.01 L1252.10,412.88 L1252.40,410.72 L1252.70,412.46 L1253.00,408.78 L1253.30,410.58 L1253.60,412.78 L1253.90,409.32 L1254.20,407.61 L1254.50,408.10 L1254.80,406.86 L1255.10,406.93 L1255.40,407.78 L1255.70,407.87 L1256.00,407.19 L1256.30,405.82 L1256.60,403.96 L1256.90,403.30 L1257.20,402.77 L1257.50,406.68 L1257.80,407.12 L1258.10,406.16 L1258.40,405.18 L1258.70,408.03 L1259.00,406.97 L1259.30,408.10 L1259.60,405.89 L1259.90,407.78 L1260.20,407.33 L1260.50,408.62 L1260.80,408.75 L1261.10,408.70 L1261.40,407.94 L1261.70,411.00 L1262.00,409.37 L1262.30,410.43 L1262.60,409.89 L1262.90,411.38 L1263.20,412.12 L1263.50,409.72 L1263.80,410.08 L1264.10,409.91 L1264.40,411.87 L1264.70,412.93 L1265.00,412.87 L1265.30,411.83 L1265.60,413.72 L1265.90,411.17 L1266.20,409.03 L1266.50,408.36 L1266.80,408.84 L1267.10,409.22 L1267.40,409.37 L1267.70,406.37 L1268.00,408.40 L1268.30,404.67 L1268.60,404.49 L1268.90,405.44 L1269.20,406.22 L1269.50,406.62 L1269.80,404.24 L1270.10,405.50 L1270.40,406.35 L1270.70,407.64 L1271.00,404.63 L1271.30,404.11 L1271.60,407.09 L1271.90,407.47 L1272.20,407.23 L1272.50,408.37 L1272.80,408.60 L1273.10,406.55 L1273.40,408.93 L1273.70,409.36 L1274.00,411.45 L1274.30,412.46 L1274.60,410.80 L1274.90,409.42 L1275.20,412.50 L1275.50,410.99 L1275.80,408.65 L1276.10,410.36 L1276.40,409.42 L1276.70,408.36 L1277.00,406.50 L1277.30,409.13 L1277.60,408.72 L1277.90,406.72 L1278.20,408.02 L1278.50,408.34 L1278.80,409.62 L1279.10,411.05 L1279.40,407.54 L1279.70,409.03 L1280.00,406.86 L1280.30,407.82 L1280.60,405.17 L1280.90,407.16 L1281.20,405.33 L1281.50,405.71 L1281.80,402.27 L1282.10,404.03 L1282.40,405.27 L1282.70,407.36 L1283.00,405.98 L1283.30,406.11 L1283.60,409.26 L1283.90,409.50 L1284.20,410.39 L1284.50,407.95 L1284.80,410.98 L1285.10,411.34 L1285.40,411.98 L1285.70,409.06 L1286.00,407.91 L1286.30,409.09 L1286.60,408.12 L1286.90,407.47 L1287.20,409.72 L1287.50,407.66 L1287.80,407.59 L1288.10,410.84 L1288.40,410.23 L1288.70,411.77 L1289.00,412.55 L1289.30,412.37 L1289.60,410.81 L1289.90,407.98 L1290.20,407.67 L1290.50,407.15 L1290.80,404.17 L1291.10,404.53 L1291.40,406.47 L1291.70,406.66 L1292.00,407.54 L1292.30,404.66 L1292.60,405.79 L1292.90,406.21 L1293.20,407.77 L1293.50,406.36 L1293.80,410.17 L1294.10,406.88 L1294.40,411.58 L1294.70,408.68 L1295.00,407.73 L1295.30,408.07 L1295.60,406.19 L1295.90,403.80 L1296.20,407.03 L1296.50,405.79 L1296.80,406.19 L1297.10,408.15 L1297.40,407.91 L1297.70,407.32 L1298.00,408.08 L1298.30,409.88 L1298.60,410.04 L1298.90,409.40 L1299.20,407.42 L1299.50,405.71 L1299.80,410.89 L1300.10,408.64 L1300.40,406.16 L1300.70,408.14 L1301.00,408.22 L1301.30,406.44 L1301.60,405.30 L1301.90,407.50 L1302.20,406.48 L1302.50,408.48 L1302.80,408.20 L1303.10,406.30 L1303.40,406.08 L1303.70,406.34 L1304.00,408.08 L1304.30,408.07 L1304.60,409.63 L1304.90,410.40 L1305.20,407.70 L1305.50,408.03 L1305.80,406.44 L1306.10,407.88 L1306.40,406.95 L1306.70,408.68 L1307.00,408.34 L1307.30,407.50 L1307.60,407.97 L1307.90,410.01 L1308.20,406.57 L1308.50,406.19 L1308.80,407.82 L1309.10,410.20 L1309.40,409.81 L1309.70,409.54 L1310.00,411.49 L1310.30,411.20 L1310.60,410.35 L1310.90,410.80 L1311.20,407.58 L1311.50,410.09 L1311.80,408.06 L1312.10,410.15 L1312.40,411.45 L1312.70,408.48 L1313.00,409.81 L1313.30,406.57 L1313.60,409.71 L1313.90,406.40 L1314.20,407.67 L1314.50,409.59 L1314.80,409.02 L1315.10,409.61 L1315.40,408.90 L1315.70,409.02 L1316.00,409.88 L1316.30,409.53 L1316.60,410.16 L1316.90,409.74 L1317.20,407.58 L1317.50,408.55 L1317.80,410.46 L1318.10,403.82 L1318.40,405.93 L1318.70,407.35 L1319.00,407.31 L1319.30,406.57 L1319.60,404.64 L1319.90,405.79 L1320.20,405.85 L1320.50,406.72 L1320.80,408.44 L1321.10,406.57 L1321.40,405.97 L1321.70,405.05 L1322.00,407.72 L1322.30,407.15 L1322.60,406.90 L1322.90,406.63 L1323.20,408.20 L1323.50,409.77 L1323.80,409.33 L1324.10,411.32 L1324.40,412.48 L1324.70,413.34 L1325.00,413.21 L1325.30,411.79 L1325.60,411.14 L1325.90,414.00 L1326.20,414.16 L1326.50,413.55 L1326.80,411.68 L1327.10,410.27 L1327.40,409.54 L1327.70,410.28 L1328.00,410.24 L1328.30,408.05 L1328.60,410.09 L1328.90,408.11 L1329.20,406.24 L1329.50,407.53 L1329.80,405.64 L1330.10,407.51 L1330.40,407.70 L1330.70,411.02 L1331.00,405.61 L1331.30,407.05 L1331.60,405.66 L1331.90,405.47 L1332.20,405.06 L1332.50,402.47 L1332.80,405.85 L1333.10,406.98 L1333.40,404.07 L1333.70,403.48 L1334.00,404.07 L1334.30,405.88 L1334.60,406.00 L1334.90,407.26 L1335.20,407.62 L1335.50,408.59 L1335.80,409.21 L1336.10,409.00 L1336.40,408.76 L1336.70,407.26 L1337.00,407.51 L1337.30,406.35 L1337.60,408.52 L1337.90,407.09 L1338.20,404.03 L1338.50,403.92 L1338.80,408.01 L1339.10,406.12 L1339.40,403.70 L1339.70,404.17 L1340.00,405.74 L1340.30,407.99 L1340.60,409.12 L1340.90,406.23 L1341.20,406.93 L1341.50,411.53 L1341.80,408.84 L1342.10,410.66 L1342.40,408.50 L1342.70,409.22 L1343.00,412.09 L1343.30,411.13 L1343.60,408.67 L1343.90,407.84 L1344.20,410.48 L1344.50,410.43 L1344.80,409.82 L1345.10,404.61 L1345.40,409.21 L1345.70,407.27 L1346.00,406.07 L1346.30,405.58 L1346.60,405.92 L1346.90,407.69 L1347.20,408.53 L1347.50,407.38 L1347.80,409.01 L1348.10,407.77 L1348.40,406.56 L1348.70,403.73 L1349.00,404.29 L1349.30,406.66 L1349.60,405.95 L1349.90,405.06 L1350.20,403.80 L1350.50,407.16 L1350.80,405.83 L1351.10,403.38 L1351.40,409.05 L1351.70,405.51 L1352.00,411.39 L1352.30,409.87 L1352.60,409.69 L1352.90,407.91 L1353.20,409.86 L1353.50,412.35 L1353.80,411.74 L1354.10,410.61 L1354.40,408.18 L1354.70,409.48 L1355.00,409.88 L1355.30,409.65 L1355.60,409.42 L1355.90,409.56 L1356.20,407.73 L1356.50,409.95 L1356.80,412.52 L1357.10,408.55 L1357.40,410.64 L1357.70,412.64 L1358.00,410.73 L1358.30,408.45 L1358.60,411.40 L1358.90,407.57 L1359.20,411.46 L1359.50,410.43 L1359.80,411.07 L1360.10,410.15 L1360.40,409.04 L1360.70,411.94 L1361.00,410.91 L1361.30,408.58 L1361.60,406.91 L1361.90,410.73 L1362.20,406.53 L1362.50,406.30 L1362.80,405.61 L1363.10,406.46 L1363.40,406.00 L1363.70,408.52 L1364.00,407.25 L1364.30,409.06 L1364.60,408.40 L1364.90,408.00 L1365.20,409.60 L1365.50,411.72 L1365.80,413.29 L1366.10,414.15 L1366.40,410.80 L1366.70,410.77 L1367.00,410.40 L1367.30,413.08 L1367.60,410.93 L1367.90,410.51 L1368.20,410.38 L1368.50,410.49 L1368.80,407.83 L1369.10,407.37 L1369.40,406.80 L1369.70,405.92 L1370.00,411.24 L1370.30,409.56 L1370.60,407.75 L1370.90,409.79 L1371.20,407.36 L1371.50,408.62 L1371.80,407.88 L1372.10,406.60 L1372.40,403.73 L1372.70,407.52 L1373.00,406.24 L1373.30,404.48 L1373.60,406.70 L1373.90,408.78 L1374.20,409.60 L1374.50,409.19 L1374.80,408.58 L1375.10,409.88 L1375.40,408.07 L1375.70,409.18 L1376.00,410.18 L1376.30,406.59 L1376.60,407.92 L1376.90,405.82 L1377.20,406.87 L1377.50,407.10 L1377.80,408.85 L1378.10,409.07 L1378.40,408.67 L1378.70,410.72 L1379.00,409.32 L1379.30,408.30 L1379.60,410.15 L1379.90,410.52 L1380.20,408.66 L1380.50,409.32 L1380.80,406.70 L1381.10,407.77 L1381.40,404.86 L1381.70,407.45 L1382.00,404.77 L1382.30,406.38 L1382.60,409.07 L1382.90,406.75 L1383.20,406.64 L1383.50,405.01 L1383.80,406.46 L1384.10,409.04 L1384.40,410.51 L1384.70,410.73 L1385.00,406.38 L1385.30,409.05 L1385.60,407.46 L1385.90,410.20 L1386.20,411.03 L1386.50,410.55 L1386.80,408.37 L1387.10,407.76 L1387.40,406.59 L1387.70,406.42 L1388.00,408.18 L1388.30,409.74 L1388.60,407.73 L1388.90,407.86 L1389.20,405.45 L1389.50,404.80 L1389.80,407.01 L1390.10,406.57 L1390.40,407.21 L1390.70,407.24 L1391.00,408.89 L1391.30,406.77 L1391.60,409.44 L1391.90,407.37 L1392.20,409.64 L1392.50,407.63 L1392.80,409.36 L1393.10,407.70 L1393.40,406.75 L1393.70,408.63 L1394.00,407.15 L1394.30,404.97 L1394.60,408.05 L1394.90,404.72 L1395.20,405.65 L1395.50,406.71 L1395.80,406.84 L1396.10,408.69 L1396.40,406.62 L1396.70,408.44 L1397.00,410.48 L1397.30,409.07 L1397.60,409.89 L1397.90,409.14 L1398.20,406.27 L1398.50,407.23 L1398.80,407.19 L1399.10,405.82 L1399.40,403.87 L1399.70,405.61 L1400.00,407.78 L1400.30,406.70 L1400.60,407.85 L1400.90,408.26 L1401.20,406.61 L1401.50,409.72 L1401.80,410.63 L1402.10,411.80 L1402.40,410.74 L1402.70,410.41 L1403.00,410.16 L1403.30,411.80 L1403.60,411.20 L1403.90,412.53 L1404.20,411.25 L1404.50,409.55 L1404.80,409.61 L1405.10,412.61 L1405.40,409.95 L1405.70,410.57 L1406.00,411.19 L1406.30,410.35 L1406.60,409.54 L1406.90,410.54 L1407.20,413.10 L1407.50,410.03 L1407.80,408.87 L1408.10,409.91 L1408.40,410.01 L1408.70,407.48 L1409.00,407.03 L1409.30,405.17 L1409.60,408.17 L1409.90,408.85 L1410.20,409.72 L1410.50,407.46 L1410.80,411.97 L1411.10,409.79 L1411.40,407.68 L1411.70,408.52 L1412.00,408.64 L1412.30,407.73 L1412.60,410.11 L1412.90,408.07 L1413.20,409.41 L1413.50,410.74 L1413.80,408.99 L1414.10,406.30 L1414.40,407.01 L1414.70,407.95 L1415.00,409.49 L1415.30,409.67 L1415.60,408.28 L1415.90,409.24 L1416.20,411.36 L1416.50,408.59 L1416.80,411.63 L1417.10,410.20 L1417.40,411.02 L1417.70,408.22 L1418.00,410.96 L1418.30,410.45 L1418.60,408.93 L1418.90,408.06 L1419.20,408.91 L1419.50,408.54 L1419.80,409.24 L1420.10,407.47 L1420.40,406.71 L1420.70,406.57 L1421.00,408.66 L1421.30,408.77 L1421.60,406.90 L1421.90,408.00 L1422.20,411.86 L1422.50,408.11 L1422.80,410.18 L1423.10,406.04 L1423.40,406.92 L1423.70,407.03 L1424.00,409.25 L1424.30,408.85 L1424.60,409.00 L1424.90,405.18 L1425.20,407.96 L1425.50,405.37 L1425.80,408.64 L1426.10,408.35 L1426.40,408.22 L1426.70,406.97 L1427.00,408.36 L1427.30,406.70 L1427.60,407.57 L1427.90,407.69 L1428.20,406.29 L1428.50,408.19 L1428.80,407.72 L1429.10,408.37 L1429.40,410.46 L1429.70,407.97 L1430.00,408.56 L1430.30,409.47 L1430.60,409.95 L1430.90,408.22 L1431.20,409.14 L1431.50,409.50 L1431.80,407.12 L1432.10,407.81 L1432.40,405.91 L1432.70,408.10 L1433.00,406.66 L1433.30,408.13 L1433.60,407.85 L1433.90,408.15 L1434.20,410.55 L1434.50,408.86 L1434.80,404.98 L1435.10,406.29 L1435.40,407.74 L1435.70,409.90 L1436.00,407.96 L1436.30,408.81 L1436.60,408.48 L1436.90,409.67 L1437.20,408.21 L1437.50,408.81 L1437.80,409.23 L1438.10,410.75 L1438.40,409.92 L1438.70,411.04 L1439.00,408.10 L1439.30,408.76 L1439.60,408.54 L1439.90,410.30 L1440.20,405.18 L1440.50,407.09 L1440.80,407.65 L1441.10,409.39 L1441.40,410.63 L1441.70,412.68 L1442.00,411.87 L1442.30,412.41 L1442.60,411.14 L1442.90,409.62 L1443.20,409.77 L1443.50,406.76 L1443.80,409.81 L1444.10,407.90 L1444.40,408.10 L1444.70,405.38 L1445.00,404.54 L1445.30,405.84 L1445.60,406.87 L1445.90,407.57 L1446.20,406.68 L1446.50,407.07 L1446.80,408.52 L1447.10,406.69 L1447.40,407.41 L1447.70,404.41 L1448.00,405.28 L1448.30,406.75 L1448.60,404.97 L1448.90,406.22 L1449.20,403.63 L1449.50,404.54 L1449.80,404.26 L1450.10,403.56 L1450.40,403.94 L1450.70,402.10 L1451.00,402.54 L1451.30,403.64 L1451.60,407.04 L1451.90,403.82 L1452.20,405.71 L1452.50,406.48 L1452.80,405.00 L1453.10,406.33 L1453.40,407.39 L1453.70,406.66 L1454.00,408.59 L1454.30,410.41 L1454.60,410.70 L1454.90,410.63 L1455.20,410.80 L1455.50,407.32 L1455.80,408.53 L1456.10,406.60 L1456.40,406.29 L1456.70,407.59 L1457.00,406.80 L1457.30,406.00 L1457.60,410.54 L1457.90,411.06 L1458.20,407.36 L1458.50,409.99 L1458.80,408.16 L1459.10,408.85 L1459.40,406.64 L1459.70,410.19 L1460.00,410.19 L1460.30,411.93 L1460.60,409.77 L1460.90,407.24 L1461.20,407.63 L1461.50,405.91 L1461.80,406.97 L1462.10,407.78 L1462.40,407.28 L1462.70,408.57 L1463.00,404.62 L1463.30,405.05 L1463.60,405.31 L1463.90,404.99 L1464.20,403.38 L1464.50,404.48 L1464.80,406.57 L1465.10,407.24 L1465.40,406.76 L1465.70,403.14 L1466.00,406.31 L1466.30,405.04 L1466.60,407.47 L1466.90,403.38 L1467.20,406.16 L1467.50,408.90 L1467.80,408.01 L1468.10,408.83 L1468.40,407.91 L1468.70,410.38 L1469.00,406.25 L1469.30,406.34 L1469.60,406.21 L1469.90,406.08 L1470.20,409.71 L1470.50,408.00 L1470.80,405.17 L1471.10,407.53 L1471.40,407.21 L1471.70,407.66 L1472.00,407.08" fill="none" stroke="#119fd6" stroke-width="3.40" stroke-linejoin="round" stroke-linecap="round"/>
<path d="M878.60,412.70 L878.85,412.98 L879.10,413.35 L879.35,410.99 L879.60,410.76 L879.85,410.28 L880.10,412.73 L880.35,412.39 L880.60,412.23 L880.85,411.32 L881.10,413.54 L881.35,414.11 L881.60,412.34 L881.85,412.15 L882.10,413.75 L882.35,412.98 L882.60,413.80 L882.85,412.17 L883.10,412.85 L883.35,412.21 L883.60,411.97 L883.85,412.14 L884.10,412.42 L884.35,412.85 L884.60,412.03 L884.85,412.45 L885.10,411.88 L885.35,411.56 L885.60,413.89 L885.85,411.60 L886.10,413.96 L886.35,413.12 L886.60,410.06 L886.85,411.82 L887.10,412.24 L887.35,412.26 L887.60,412.14 L887.85,411.61 L888.10,413.19 L888.35,411.69 L888.60,412.47 L888.85,411.23 L889.10,411.27 L889.35,413.50 L889.60,412.19 L889.85,411.41 L890.10,412.01 L890.35,412.94 L890.60,411.95 L890.85,411.59 L891.10,413.02 L891.35,413.31 L891.60,412.42 L891.85,412.33 L892.10,412.22 L892.35,415.02 L892.60,412.42 L892.85,413.95 L893.10,412.21 L893.35,412.91 L893.60,410.65 L893.85,412.71 L894.10,412.55 L894.35,411.85 L894.60,411.80 L894.85,411.07 L895.10,411.06 L895.35,412.47 L895.60,411.39 L895.85,411.60 L896.10,411.65 L896.35,411.40 L896.60,411.19 L896.85,413.72 L897.10,410.87 L897.35,411.55 L897.60,411.82 L897.85,411.16 L898.10,411.02 L898.35,412.46 L898.60,412.71 L898.85,412.15 L899.10,415.27 L899.35,413.09 L899.60,413.42 L899.85,411.36 L900.10,413.04 L900.35,413.65 L900.60,411.72 L900.85,413.99 L901.10,411.69 L901.35,411.52 L901.60,412.64 L901.85,411.94 L902.10,413.44 L902.35,411.71 L902.60,412.72 L902.85,410.76 L903.10,412.48 L903.35,413.50 L903.60,412.38 L903.85,412.69 L904.10,413.05 L904.35,410.71 L904.60,410.59 L904.85,411.97 L905.10,412.18 L905.35,411.46 L905.60,410.77 L905.85,412.62 L906.10,410.35 L906.35,411.41 L906.60,411.65 L906.85,412.20 L907.10,411.20 L907.35,410.97 L907.60,413.67 L907.85,410.68 L908.10,412.00 L908.35,410.80 L908.60,410.46 L908.85,411.11 L909.10,411.20 L909.35,411.97 L909.60,409.17 L909.85,411.59 L910.10,411.60 L910.35,410.53 L910.60,411.26 L910.85,413.64 L911.10,413.41 L911.35,412.53 L911.60,412.07 L911.85,411.40 L912.10,412.76 L912.35,410.86 L912.60,410.37 L912.85,411.71 L913.10,410.17 L913.35,410.49 L913.60,412.56 L913.85,409.88 L914.10,411.53 L914.35,411.77 L914.60,412.06 L914.85,410.65 L915.10,412.07 L915.35,411.79 L915.60,413.89 L915.85,413.05 L916.10,411.86 L916.35,413.37 L916.60,413.19 L916.85,412.40 L917.10,411.98 L917.35,411.69 L917.60,410.25 L917.85,410.89 L918.10,412.45 L918.35,412.83 L918.60,413.42 L918.85,411.25 L919.10,412.21 L919.35,409.16 L919.60,411.01 L919.85,410.01 L920.10,411.96 L920.35,409.69 L920.60,410.75 L920.85,410.87 L921.10,412.36 L921.35,412.79 L921.60,411.45 L921.85,413.97 L922.10,412.44 L922.35,411.56 L922.60,412.70 L922.85,412.34 L923.10,413.33 L923.35,413.01 L923.60,414.80 L923.85,413.78 L924.10,412.17 L924.35,413.43 L924.60,413.31 L924.85,411.51 L925.10,411.91 L925.35,412.02 L925.60,410.24 L925.85,413.08 L926.10,412.36 L926.35,413.60 L926.60,411.92 L926.85,412.25 L927.10,412.44 L927.35,412.54 L927.60,411.64 L927.85,410.23 L928.10,413.49 L928.35,412.18 L928.60,412.54 L928.85,412.89 L929.10,412.38 L929.35,411.49 L929.60,411.64 L929.85,411.82 L930.10,409.94 L930.35,412.41 L930.60,410.73 L930.85,412.23 L931.10,411.11 L931.35,412.42 L931.60,411.48 L931.85,414.27 L932.10,412.38 L932.35,412.99 L932.60,411.50 L932.85,411.95 L933.10,412.16 L933.35,412.27 L933.60,412.18 L933.85,412.15 L934.10,413.66 L934.35,412.51 L934.60,412.43 L934.85,413.17 L935.10,412.14 L935.35,412.66 L935.60,412.17 L935.85,411.90 L936.10,412.46 L936.35,411.96 L936.60,411.43 L936.85,412.76 L937.10,411.93 L937.35,410.83 L937.60,411.83 L937.85,412.13 L938.10,412.73 L938.35,412.62 L938.60,412.33 L938.85,412.92 L939.10,411.97 L939.35,411.93 L939.60,413.22 L939.85,412.35 L940.10,412.77 L940.35,413.16 L940.60,413.44 L940.85,413.78 L941.10,412.19 L941.35,412.46 L941.60,413.30 L941.85,411.74 L942.10,411.60 L942.35,413.22 L942.60,412.05 L942.85,411.54 L943.10,413.13 L943.35,412.89 L943.60,413.45 L943.85,412.24 L944.10,412.28 L944.35,412.11 L944.60,412.47 L944.85,410.47 L945.10,411.41 L945.35,412.88 L945.60,411.57 L945.85,411.95 L946.10,412.30 L946.35,412.61 L946.60,411.55 L946.85,410.62 L947.10,413.97 L947.35,411.08 L947.60,413.20 L947.85,409.88 L948.10,411.65 L948.35,411.33 L948.60,413.06 L948.85,413.15 L949.10,412.25 L949.35,410.38 L949.60,410.40 L949.85,410.55 L950.10,411.07 L950.35,411.91 L950.60,410.76 L950.85,411.26 L951.10,413.07 L951.35,412.78 L951.60,409.83 L951.85,411.02 L952.10,411.59 L952.35,413.12 L952.60,411.61 L952.85,413.57 L953.10,412.08 L953.35,412.85 L953.60,410.78 L953.85,411.27 L954.10,412.60 L954.35,412.07 L954.60,409.95 L954.85,411.33 L955.10,411.65 L955.35,411.94 L955.60,410.97 L955.85,413.36 L956.10,412.26 L956.35,413.35 L956.60,412.60 L956.85,412.11 L957.10,411.88 L957.35,411.01 L957.60,412.83 L957.85,412.57 L958.10,412.73 L958.35,411.46 L958.60,410.90 L958.85,411.40 L959.10,411.34 L959.35,411.54 L959.60,412.64 L959.85,410.82 L960.10,411.70 L960.35,412.81 L960.60,413.09 L960.85,414.17 L961.10,412.80 L961.35,411.61 L961.60,411.10 L961.85,411.44 L962.10,412.28 L962.35,412.41 L962.60,412.07 L962.85,411.55 L963.10,412.12 L963.35,411.97 L963.60,412.45 L963.85,411.89 L964.10,411.50 L964.35,410.99 L964.60,413.32 L964.85,412.22 L965.10,412.18 L965.35,412.30 L965.60,413.55 L965.85,412.33 L966.10,412.87 L966.35,412.31 L966.60,413.02 L966.85,411.55 L967.10,412.83 L967.35,413.16 L967.60,413.31 L967.85,412.77 L968.10,412.33 L968.35,413.38 L968.60,412.71 L968.85,412.89 L969.10,410.42 L969.35,410.31 L969.60,412.04 L969.85,410.97 L970.10,410.73 L970.35,409.94 L970.60,412.37 L970.85,409.65 L971.10,410.65 L971.35,409.33 L971.60,410.69 L971.85,412.98 L972.10,413.44 L972.35,410.53 L972.60,410.18 L972.85,412.70 L973.10,410.60 L973.35,409.75 L973.60,411.97 L973.85,410.63 L974.10,410.79 L974.35,413.38 L974.60,411.70 L974.85,411.14 L975.10,411.90 L975.35,411.63 L975.60,413.04 L975.85,412.25 L976.10,413.63 L976.35,413.01 L976.60,413.64 L976.85,412.80 L977.10,411.76 L977.35,412.08 L977.60,411.67 L977.85,409.95 L978.10,410.39 L978.35,412.28 L978.60,409.25 L978.85,410.59 L979.10,410.09 L979.35,411.06 L979.60,410.05 L979.85,411.31 L980.10,411.08 L980.35,410.88 L980.60,410.69 L980.85,409.43 L981.10,411.71 L981.35,410.55 L981.60,411.43 L981.85,412.25 L982.10,412.91 L982.35,412.65 L982.60,413.40 L982.85,410.96 L983.10,413.00 L983.35,413.66 L983.60,412.72 L983.85,411.40 L984.10,412.83 L984.35,412.00 L984.60,411.78 L984.85,413.59 L985.10,412.40 L985.35,411.70 L985.60,411.88 L985.85,414.58 L986.10,411.72 L986.35,413.04 L986.60,412.67 L986.85,413.42 L987.10,411.97 L987.35,411.23 L987.60,411.66 L987.85,411.54 L988.10,414.85 L988.35,412.52 L988.60,411.79 L988.85,413.06 L989.10,412.42 L989.35,411.93 L989.60,412.85 L989.85,412.57 L990.10,413.71 L990.35,414.11 L990.60,412.10 L990.85,412.20 L991.10,411.94 L991.35,413.07 L991.60,412.47 L991.85,413.23 L992.10,413.51 L992.35,412.31 L992.60,412.90 L992.85,413.72 L993.10,413.31 L993.35,413.02 L993.60,411.86 L993.85,412.26 L994.10,411.81 L994.35,412.22 L994.60,412.59 L994.85,411.19 L995.10,413.21 L995.35,411.51 L995.60,412.26 L995.85,412.79 L996.10,412.10 L996.35,411.15 L996.60,413.61 L996.85,412.94 L997.10,412.14 L997.35,413.46 L997.60,413.17 L997.85,411.27 L998.10,412.10 L998.35,410.62 L998.60,412.12 L998.85,413.46 L999.10,411.32 L999.35,412.68 L999.60,410.40 L999.85,411.67 L1000.10,412.88 L1000.35,413.77 L1000.60,412.59 L1000.85,413.03 L1001.10,414.14 L1001.35,410.41 L1001.60,410.88 L1001.85,414.09 L1002.10,414.91 L1002.35,413.00 L1002.60,412.51 L1002.85,412.60 L1003.10,412.45 L1003.35,411.93 L1003.60,412.18 L1003.85,412.02 L1004.10,412.65 L1004.35,412.48 L1004.60,412.70 L1004.85,412.51 L1005.10,410.85 L1005.35,412.67 L1005.60,409.03 L1005.85,411.70 L1006.10,411.74 L1006.35,410.84 L1006.60,412.84 L1006.85,410.49 L1007.10,410.64 L1007.35,411.10 L1007.60,412.06 L1007.85,412.34 L1008.10,411.68 L1008.35,412.35 L1008.60,411.27 L1008.85,411.25 L1009.10,411.74 L1009.35,410.47 L1009.60,411.84 L1009.85,411.66 L1010.10,412.22 L1010.35,410.51 L1010.60,411.36 L1010.85,411.34 L1011.10,411.75 L1011.35,411.04 L1011.60,411.65 L1011.85,410.39 L1012.10,411.91 L1012.35,412.09 L1012.60,411.41 L1012.85,411.03 L1013.10,410.24 L1013.35,410.31 L1013.60,411.17 L1013.85,410.40 L1014.10,409.85 L1014.35,411.06 L1014.60,411.03 L1014.85,410.67 L1015.10,410.57 L1015.35,411.45 L1015.60,410.74 L1015.85,411.30 L1016.10,411.94 L1016.35,412.43 L1016.60,412.57 L1016.85,411.41 L1017.10,413.09 L1017.35,411.00 L1017.60,411.79 L1017.85,413.31 L1018.10,414.49 L1018.35,412.49 L1018.60,412.04 L1018.85,412.18 L1019.10,411.02 L1019.35,411.97 L1019.60,411.66 L1019.85,411.28 L1020.10,413.06 L1020.35,410.89 L1020.60,413.13 L1020.85,412.16 L1021.10,411.84 L1021.35,410.79 L1021.60,410.70 L1021.85,409.28 L1022.10,411.54 L1022.35,411.29 L1022.60,412.06 L1022.85,411.32 L1023.10,412.30 L1023.35,410.31 L1023.60,409.88 L1023.85,412.39 L1024.10,413.09 L1024.35,409.27 L1024.60,413.05 L1024.85,411.53 L1025.10,411.89 L1025.35,410.48 L1025.60,411.02 L1025.85,412.48 L1026.10,410.96 L1026.35,411.78 L1026.60,411.73 L1026.85,413.41 L1027.10,412.62 L1027.35,410.46 L1027.60,411.27 L1027.85,411.00 L1028.10,410.85 L1028.35,411.29 L1028.60,412.96 L1028.85,411.90 L1029.10,412.60 L1029.35,411.77 L1029.60,411.45 L1029.85,411.94 L1030.10,412.25 L1030.35,414.05 L1030.60,414.19 L1030.85,412.68 L1031.10,412.86 L1031.35,410.53 L1031.60,412.25 L1031.85,414.48 L1032.10,411.58 L1032.35,413.02 L1032.60,413.75 L1032.85,412.25 L1033.10,412.24 L1033.35,412.20 L1033.60,413.25 L1033.85,412.27 L1034.10,413.86 L1034.35,413.35 L1034.60,412.14 L1034.85,414.52 L1035.10,412.04 L1035.35,411.59 L1035.60,411.92 L1035.85,411.09 L1036.10,411.47 L1036.35,411.74 L1036.60,412.38 L1036.85,410.22 L1037.10,410.63 L1037.35,411.03 L1037.60,411.38 L1037.85,411.98 L1038.10,410.99 L1038.35,412.63 L1038.60,411.07 L1038.85,411.33 L1039.10,411.66 L1039.35,412.53 L1039.60,411.76 L1039.85,411.39 L1040.10,410.88 L1040.35,411.34 L1040.60,411.69 L1040.85,411.20 L1041.10,411.46 L1041.35,409.74 L1041.60,411.43 L1041.85,412.76 L1042.10,413.00 L1042.35,411.59 L1042.60,409.71 L1042.85,413.72 L1043.10,411.96 L1043.35,414.46 L1043.60,411.73 L1043.85,413.12 L1044.10,411.72 L1044.35,413.93 L1044.60,413.88 L1044.85,411.76 L1045.10,414.18 L1045.35,415.65 L1045.60,412.85 L1045.85,412.19 L1046.10,413.18 L1046.35,412.25 L1046.60,411.28 L1046.85,411.75 L1047.10,412.69 L1047.35,410.87 L1047.60,413.01 L1047.85,412.19 L1048.10,411.56 L1048.35,412.85 L1048.60,410.78 L1048.85,412.21 L1049.10,410.33 L1049.35,411.46 L1049.60,412.59 L1049.85,411.18 L1050.10,411.48 L1050.35,412.23 L1050.60,413.00 L1050.85,413.19 L1051.10,412.44 L1051.35,411.81 L1051.60,410.62 L1051.85,413.50 L1052.10,413.50 L1052.35,409.83 L1052.60,412.56 L1052.85,411.75 L1053.10,412.51 L1053.35,412.44 L1053.60,411.94 L1053.85,412.35 L1054.10,411.75 L1054.35,412.78 L1054.60,411.65 L1054.85,411.69 L1055.10,412.72 L1055.35,412.99 L1055.60,412.76 L1055.85,412.54 L1056.10,413.71 L1056.35,413.38 L1056.60,412.18 L1056.85,411.87 L1057.10,412.59 L1057.35,410.57 L1057.60,411.83 L1057.85,411.52 L1058.10,412.13 L1058.35,411.70 L1058.60,414.16 L1058.85,412.46 L1059.10,412.34 L1059.35,414.19 L1059.60,412.12 L1059.85,411.84 L1060.10,413.38 L1060.35,412.96 L1060.60,413.04 L1060.85,413.33 L1061.10,411.91 L1061.35,411.64 L1061.60,411.53 L1061.85,412.36 L1062.10,413.16 L1062.35,411.18 L1062.60,411.52 L1062.85,411.00 L1063.10,414.26 L1063.35,412.88 L1063.60,412.22 L1063.85,410.84 L1064.10,411.30 L1064.35,411.43 L1064.60,412.19 L1064.85,411.08 L1065.10,412.12 L1065.35,413.79 L1065.60,412.63 L1065.85,412.73 L1066.10,410.79 L1066.35,412.45 L1066.60,412.86 L1066.85,412.42 L1067.10,412.01 L1067.35,413.10 L1067.60,412.08 L1067.85,412.50 L1068.10,411.40 L1068.35,412.54 L1068.60,413.15 L1068.85,411.49 L1069.10,412.68 L1069.35,410.86 L1069.60,412.74 L1069.85,412.58 L1070.10,411.64 L1070.35,412.54 L1070.60,410.83 L1070.85,411.88 L1071.10,413.10 L1071.35,411.51 L1071.60,410.75 L1071.85,412.92 L1072.10,412.39 L1072.35,411.54 L1072.60,410.07 L1072.85,409.84 L1073.10,410.31 L1073.35,413.46 L1073.60,412.51 L1073.85,411.59 L1074.10,413.77 L1074.35,414.06 L1074.60,412.06 L1074.85,413.10 L1075.10,411.07 L1075.35,412.70 L1075.60,413.97 L1075.85,411.07 L1076.10,412.39 L1076.35,411.60 L1076.60,411.77 L1076.85,411.74 L1077.10,411.92 L1077.35,412.38 L1077.60,412.23 L1077.85,412.79 L1078.10,412.89 L1078.35,413.00 L1078.60,411.66 L1078.85,412.82 L1079.10,412.00 L1079.35,411.74 L1079.60,414.17 L1079.85,412.47 L1080.10,412.28 L1080.35,410.31 L1080.60,411.90 L1080.85,412.79 L1081.10,411.94 L1081.35,411.29 L1081.60,413.33 L1081.85,411.63 L1082.10,411.55 L1082.35,411.98 L1082.60,411.78 L1082.85,413.03 L1083.10,412.86 L1083.35,412.36 L1083.60,411.92 L1083.85,411.97 L1084.10,413.61 L1084.35,411.63 L1084.60,412.69 L1084.85,410.67 L1085.10,412.29 L1085.35,412.60 L1085.60,412.97 L1085.85,412.39 L1086.10,412.63 L1086.35,412.28 L1086.60,413.19 L1086.85,414.09 L1087.10,412.36 L1087.35,411.45 L1087.60,412.62 L1087.85,412.16 L1088.10,412.83 L1088.35,413.07 L1088.60,412.33 L1088.85,411.60 L1089.10,412.18 L1089.35,410.79 L1089.60,412.33 L1089.85,410.73 L1090.10,412.00 L1090.35,411.82 L1090.60,411.62 L1090.85,410.46 L1091.10,411.51 L1091.35,410.65 L1091.60,411.18 L1091.85,411.99 L1092.10,412.34 L1092.35,410.21 L1092.60,412.39 L1092.85,412.33 L1093.10,412.40 L1093.35,411.79 L1093.60,411.36 L1093.85,413.14 L1094.10,411.49 L1094.35,410.56 L1094.60,412.17 L1094.85,412.30 L1095.10,411.48 L1095.35,411.52 L1095.60,414.64 L1095.85,412.72 L1096.10,413.72 L1096.35,412.52 L1096.60,411.70 L1096.85,412.94 L1097.10,414.03 L1097.35,412.44 L1097.60,411.19 L1097.85,412.58 L1098.10,412.51 L1098.35,412.41 L1098.60,411.11 L1098.85,411.64 L1099.10,411.52 L1099.35,412.61 L1099.60,411.94 L1099.85,412.46 L1100.10,411.73 L1100.35,410.05 L1100.60,409.96 L1100.85,412.22 L1101.10,412.47 L1101.35,412.53 L1101.60,411.54 L1101.85,410.13 L1102.10,411.38 L1102.35,412.43 L1102.60,413.72 L1102.85,412.18 L1103.10,411.69 L1103.35,411.32 L1103.60,412.80 L1103.85,412.46 L1104.10,410.22 L1104.35,413.11 L1104.60,411.14 L1104.85,410.78 L1105.10,410.76 L1105.35,411.37 L1105.60,414.18 L1105.85,414.48 L1106.10,411.00 L1106.35,411.73 L1106.60,412.58 L1106.85,413.00 L1107.10,412.64 L1107.35,411.32 L1107.60,412.43 L1107.85,412.25 L1108.10,411.29 L1108.35,412.93 L1108.60,411.50 L1108.85,410.80 L1109.10,413.57 L1109.35,412.90 L1109.60,413.38 L1109.85,412.10 L1110.10,411.46 L1110.35,411.67 L1110.60,410.62 L1110.85,412.34 L1111.10,411.80 L1111.35,411.18 L1111.60,409.89 L1111.85,411.53 L1112.10,413.32 L1112.35,413.07 L1112.60,412.39 L1112.85,411.14 L1113.10,411.68 L1113.35,411.99 L1113.60,411.85 L1113.85,412.60 L1114.10,411.06 L1114.35,409.50 L1114.60,409.40 L1114.85,410.61 L1115.10,410.16 L1115.35,411.89 L1115.60,412.38 L1115.85,411.58 L1116.10,412.13 L1116.35,411.78 L1116.60,412.04 L1116.85,411.37 L1117.10,411.39 L1117.35,412.74 L1117.60,411.28 L1117.85,411.34 L1118.10,412.32 L1118.35,412.32 L1118.60,411.19 L1118.85,411.78 L1119.10,410.58 L1119.35,411.70 L1119.60,411.95 L1119.85,411.38 L1120.10,411.89 L1120.35,412.16 L1120.60,409.58 L1120.85,411.34 L1121.10,412.54 L1121.35,412.35 L1121.60,411.83 L1121.85,412.52 L1122.10,414.31 L1122.35,412.59 L1122.60,412.10 L1122.85,412.00 L1123.10,411.56 L1123.35,413.36 L1123.60,411.89 L1123.85,413.87 L1124.10,413.68 L1124.35,413.06 L1124.60,413.16 L1124.85,412.03 L1125.10,410.36 L1125.35,411.79 L1125.60,412.55 L1125.85,410.62 L1126.10,410.75 L1126.35,412.83 L1126.60,412.13 L1126.85,412.87 L1127.10,412.18 L1127.35,411.72 L1127.60,412.15 L1127.85,412.77 L1128.10,412.05 L1128.35,412.05 L1128.60,412.42 L1128.85,411.92 L1129.10,414.38 L1129.35,411.75 L1129.60,411.28 L1129.85,411.55 L1130.10,414.14 L1130.35,412.84 L1130.60,413.39 L1130.85,413.08 L1131.10,413.54 L1131.35,411.91 L1131.60,413.72 L1131.85,413.27 L1132.10,414.61 L1132.35,414.46 L1132.60,412.50 L1132.85,412.75 L1133.10,413.85 L1133.35,414.10 L1133.60,413.51 L1133.85,412.61 L1134.10,413.63 L1134.35,410.47 L1134.60,412.10 L1134.85,411.47 L1135.10,411.24 L1135.35,412.57 L1135.60,412.21 L1135.85,412.37 L1136.10,412.00 L1136.35,412.55 L1136.60,412.68 L1136.85,411.49 L1137.10,413.17 L1137.35,411.45 L1137.60,413.62 L1137.85,410.75 L1138.10,411.71 L1138.35,411.28 L1138.60,412.39 L1138.85,413.41 L1139.10,411.31 L1139.35,413.41 L1139.60,413.24 L1139.85,412.50 L1140.10,411.74 L1140.35,413.17 L1140.60,409.83 L1140.85,412.06 L1141.10,413.75 L1141.35,412.66 L1141.60,415.03 L1141.85,412.37 L1142.10,412.06 L1142.35,413.33 L1142.60,414.29 L1142.85,415.51 L1143.10,412.26 L1143.35,413.78 L1143.60,414.46 L1143.85,412.70 L1144.10,412.78 L1144.35,411.98 L1144.60,413.72 L1144.85,413.65 L1145.10,413.31 L1145.35,412.78 L1145.60,413.41 L1145.85,412.43 L1146.10,413.09 L1146.35,413.36 L1146.60,413.79 L1146.85,413.30 L1147.10,412.99 L1147.35,413.54 L1147.60,411.57 L1147.85,411.57 L1148.10,414.49 L1148.35,413.12 L1148.60,412.09 L1148.85,412.50 L1149.10,412.72 L1149.35,412.98 L1149.60,412.08 L1149.85,413.91 L1150.10,411.41 L1150.35,415.47 L1150.60,412.29 L1150.85,414.73 L1151.10,413.88 L1151.35,411.79 L1151.60,412.09 L1151.85,413.17 L1152.10,413.36 L1152.35,412.87 L1152.60,413.04 L1152.85,413.05 L1153.10,411.74 L1153.35,412.74 L1153.60,414.89 L1153.85,411.92 L1154.10,411.62 L1154.35,412.91 L1154.60,413.71 L1154.85,413.82 L1155.10,412.38 L1155.35,412.94 L1155.60,412.98 L1155.85,413.09 L1156.10,413.80 L1156.35,414.52 L1156.60,413.75 L1156.85,413.25 L1157.10,413.27 L1157.35,415.12 L1157.60,412.32 L1157.85,415.37 L1158.10,413.95 L1158.35,413.40 L1158.60,412.86 L1158.85,415.21 L1159.10,414.27 L1159.35,414.02 L1159.60,415.05 L1159.85,411.63 L1160.10,413.32 L1160.35,412.64 L1160.60,412.33 L1160.85,413.03 L1161.10,413.24 L1161.35,413.27 L1161.60,412.43 L1161.85,411.12 L1162.10,412.76 L1162.35,412.98 L1162.60,414.30 L1162.85,413.03 L1163.10,412.34 L1163.35,411.12 L1163.60,414.98 L1163.85,411.66 L1164.10,412.70 L1164.35,413.23 L1164.60,413.18 L1164.85,414.05 L1165.10,411.93 L1165.35,412.46 L1165.60,412.97 L1165.85,411.71 L1166.10,412.51 L1166.35,414.25 L1166.60,413.59 L1166.85,412.86 L1167.10,412.35 L1167.35,412.80 L1167.60,412.66 L1167.85,411.45 L1168.10,413.24 L1168.35,411.06 L1168.60,413.65 L1168.85,412.34 L1169.10,410.70 L1169.35,411.34 L1169.60,413.16 L1169.85,411.82 L1170.10,413.35 L1170.35,413.05 L1170.60,413.60 L1170.85,412.60 L1171.10,413.07 L1171.35,411.09 L1171.60,412.80 L1171.85,410.91 L1172.10,411.08 L1172.35,409.50 L1172.60,410.63 L1172.85,410.90 L1173.10,410.37 L1173.35,409.38 L1173.60,411.33 L1173.85,411.44 L1174.10,410.51 L1174.35,411.40 L1174.60,411.81 L1174.85,410.10 L1175.10,411.26 L1175.35,409.80 L1175.60,410.62 L1175.85,412.35 L1176.10,410.90 L1176.35,412.29 L1176.60,412.50 L1176.85,410.23 L1177.10,411.77 L1177.35,413.61 L1177.60,412.19 L1177.85,412.23 L1178.10,411.51 L1178.35,410.58 L1178.60,410.32 L1178.85,414.64 L1179.10,411.54 L1179.35,411.27 L1179.60,412.19 L1179.85,410.01 L1180.10,413.23 L1180.35,413.43 L1180.60,410.95 L1180.85,411.84 L1181.10,410.73 L1181.35,412.52 L1181.60,410.97 L1181.85,411.88 L1182.10,413.21 L1182.35,412.52 L1182.60,411.64 L1182.85,410.45 L1183.10,410.62 L1183.35,413.07 L1183.60,412.47 L1183.85,412.27 L1184.10,413.54 L1184.35,412.44 L1184.60,411.42 L1184.85,411.64 L1185.10,411.58 L1185.35,411.56 L1185.60,413.87 L1185.85,412.09 L1186.10,411.74 L1186.35,411.19 L1186.60,410.89 L1186.85,410.45 L1187.10,409.54 L1187.35,410.87 L1187.60,409.71 L1187.85,409.31 L1188.10,410.36 L1188.35,409.46 L1188.60,412.72 L1188.85,412.69 L1189.10,410.46 L1189.35,413.41 L1189.60,412.06 L1189.85,409.19 L1190.10,411.72 L1190.35,410.77 L1190.60,409.85 L1190.85,411.30 L1191.10,412.79 L1191.35,412.25 L1191.60,410.28 L1191.85,410.93 L1192.10,410.91 L1192.35,412.94 L1192.60,411.45 L1192.85,410.42 L1193.10,410.35 L1193.35,409.42 L1193.60,410.34 L1193.85,412.16 L1194.10,409.73 L1194.35,411.69 L1194.60,411.40 L1194.85,412.37 L1195.10,410.58 L1195.35,412.33 L1195.60,412.59 L1195.85,413.75 L1196.10,410.32 L1196.35,411.84 L1196.60,411.42 L1196.85,411.79 L1197.10,410.65 L1197.35,412.02 L1197.60,413.48 L1197.85,412.61 L1198.10,410.11 L1198.35,410.52 L1198.60,411.79 L1198.85,411.52 L1199.10,410.59 L1199.35,412.43 L1199.60,411.74 L1199.85,412.25 L1200.10,411.29 L1200.35,412.63 L1200.60,410.98 L1200.85,410.45 L1201.10,411.43 L1201.35,410.27 L1201.60,412.91 L1201.85,412.43 L1202.10,409.97 L1202.35,411.80 L1202.60,412.32 L1202.85,411.11 L1203.10,412.01 L1203.35,411.02 L1203.60,411.55 L1203.85,411.77 L1204.10,412.15 L1204.35,410.79 L1204.60,410.71 L1204.85,411.93 L1205.10,411.15 L1205.35,411.89 L1205.60,410.68 L1205.85,409.95 L1206.10,412.02 L1206.35,411.43 L1206.60,411.79 L1206.85,410.70 L1207.10,410.72 L1207.35,412.37 L1207.60,409.63 L1207.85,412.80 L1208.10,411.56 L1208.35,410.96 L1208.60,411.12 L1208.85,411.61 L1209.10,410.29 L1209.35,411.35 L1209.60,410.23 L1209.85,409.29 L1210.10,411.39 L1210.35,410.99 L1210.60,411.73 L1210.85,411.40 L1211.10,411.69 L1211.35,412.07 L1211.60,410.50 L1211.85,412.81 L1212.10,414.39 L1212.35,411.25 L1212.60,410.58 L1212.85,412.43 L1213.10,412.65 L1213.35,412.76 L1213.60,413.46 L1213.85,410.51 L1214.10,412.27 L1214.35,412.26 L1214.60,412.77 L1214.85,410.59 L1215.10,411.75 L1215.35,411.15 L1215.60,411.24 L1215.85,410.94 L1216.10,410.99 L1216.35,409.74 L1216.60,411.29 L1216.85,411.56 L1217.10,411.02 L1217.35,408.04 L1217.60,410.97 L1217.85,411.26 L1218.10,410.84 L1218.35,412.81 L1218.60,412.36 L1218.85,411.52 L1219.10,412.44 L1219.35,415.07 L1219.60,410.88 L1219.85,412.27 L1220.10,411.25 L1220.35,413.16 L1220.60,412.98 L1220.85,411.66 L1221.10,412.26 L1221.35,411.10 L1221.60,410.46 L1221.85,412.46 L1222.10,413.17 L1222.35,411.17 L1222.60,410.67 L1222.85,409.49 L1223.10,413.18 L1223.35,409.91 L1223.60,410.24 L1223.85,410.67 L1224.10,411.79 L1224.35,410.62 L1224.60,410.66 L1224.85,410.70 L1225.10,411.61 L1225.35,410.67 L1225.60,411.04 L1225.85,410.91 L1226.10,409.78 L1226.35,412.16 L1226.60,409.92 L1226.85,409.52 L1227.10,410.69 L1227.35,411.19 L1227.60,412.09 L1227.85,409.72 L1228.10,410.09 L1228.35,411.58 L1228.60,411.86 L1228.85,410.36 L1229.10,410.49 L1229.35,411.83 L1229.60,411.60 L1229.85,410.35 L1230.10,410.95 L1230.35,413.16 L1230.60,410.79 L1230.85,412.81 L1231.10,410.38 L1231.35,413.23 L1231.60,413.37 L1231.85,411.40 L1232.10,411.37 L1232.35,412.58 L1232.60,410.78 L1232.85,412.62 L1233.10,413.53 L1233.35,412.47 L1233.60,412.37 L1233.85,412.00 L1234.10,413.14 L1234.35,411.57 L1234.60,413.68 L1234.85,412.31 L1235.10,411.84 L1235.35,410.66 L1235.60,411.91 L1235.85,412.46 L1236.10,413.01 L1236.35,410.13 L1236.60,411.70 L1236.85,411.31 L1237.10,410.79 L1237.35,411.81 L1237.60,411.12 L1237.85,412.73 L1238.10,409.36 L1238.35,412.64 L1238.60,410.20 L1238.85,410.01 L1239.10,412.48 L1239.35,411.98 L1239.60,412.42 L1239.85,411.47 L1240.10,411.35 L1240.35,411.72 L1240.60,412.39 L1240.85,411.64 L1241.10,411.92 L1241.35,411.27 L1241.60,412.43 L1241.85,410.92 L1242.10,410.14 L1242.35,409.65 L1242.60,412.11 L1242.85,412.26 L1243.10,412.96 L1243.35,411.30 L1243.60,410.84 L1243.85,410.40 L1244.10,412.36 L1244.35,410.95 L1244.60,412.52 L1244.85,411.18 L1245.10,411.10 L1245.35,409.56 L1245.60,410.49 L1245.85,411.87 L1246.10,410.52 L1246.35,411.64 L1246.60,409.34 L1246.85,411.81 L1247.10,413.62 L1247.35,412.19 L1247.60,411.86 L1247.85,410.15 L1248.10,411.08 L1248.35,411.00 L1248.60,411.70 L1248.85,409.77 L1249.10,411.12 L1249.35,412.68 L1249.60,412.27 L1249.85,413.08 L1250.10,413.15 L1250.35,410.91 L1250.60,410.75 L1250.85,412.42 L1251.10,412.04 L1251.35,412.01 L1251.60,411.02 L1251.85,412.87 L1252.10,412.34 L1252.35,412.84 L1252.60,411.33 L1252.85,412.39 L1253.10,411.33 L1253.35,410.57 L1253.60,412.00 L1253.85,410.35 L1254.10,411.65 L1254.35,412.15 L1254.60,413.07 L1254.85,411.60 L1255.10,411.27 L1255.35,411.60 L1255.60,410.21 L1255.85,411.72 L1256.10,414.35 L1256.35,412.15 L1256.60,411.33 L1256.85,410.78 L1257.10,413.11 L1257.35,410.04 L1257.60,410.94 L1257.85,410.61 L1258.10,410.02 L1258.35,410.22 L1258.60,409.45 L1258.85,410.29 L1259.10,412.02 L1259.35,412.20 L1259.60,410.71 L1259.85,411.53 L1260.10,411.47 L1260.35,410.93 L1260.60,410.86 L1260.85,412.58 L1261.10,411.67 L1261.35,410.64 L1261.60,410.63 L1261.85,411.60 L1262.10,410.00 L1262.35,410.11 L1262.60,410.85 L1262.85,410.56 L1263.10,412.51 L1263.35,411.77 L1263.60,411.56 L1263.85,411.22 L1264.10,412.85 L1264.35,411.99 L1264.60,413.56 L1264.85,412.28 L1265.10,411.48 L1265.35,411.09 L1265.60,411.24 L1265.85,411.46 L1266.10,412.09 L1266.35,411.52 L1266.60,412.63 L1266.85,409.75 L1267.10,411.06 L1267.35,409.60 L1267.60,410.00 L1267.85,410.54 L1268.10,410.62 L1268.35,410.15 L1268.60,409.56 L1268.85,412.24 L1269.10,410.91 L1269.35,412.09 L1269.60,410.22 L1269.85,409.04 L1270.10,410.75 L1270.35,412.21 L1270.60,410.60 L1270.85,411.61 L1271.10,410.15 L1271.35,412.36 L1271.60,411.61 L1271.85,412.39 L1272.10,411.22 L1272.35,412.66 L1272.60,411.51 L1272.85,410.88 L1273.10,410.95 L1273.35,411.38 L1273.60,410.40 L1273.85,410.35 L1274.10,411.77 L1274.35,412.36 L1274.60,411.43 L1274.85,412.28 L1275.10,412.77 L1275.35,409.86 L1275.60,411.36 L1275.85,410.41 L1276.10,410.81 L1276.35,411.38 L1276.60,409.19 L1276.85,412.04 L1277.10,412.15 L1277.35,411.73 L1277.60,412.02 L1277.85,413.27 L1278.10,411.30 L1278.35,412.79 L1278.60,413.27 L1278.85,412.52 L1279.10,410.00 L1279.35,411.70 L1279.60,411.43 L1279.85,410.13 L1280.10,411.70 L1280.35,412.59 L1280.60,411.60 L1280.85,411.57 L1281.10,413.10 L1281.35,411.28 L1281.60,411.09 L1281.85,411.81 L1282.10,412.97 L1282.35,412.81 L1282.60,412.10 L1282.85,411.51 L1283.10,413.25 L1283.35,412.96 L1283.60,410.51 L1283.85,412.66 L1284.10,410.01 L1284.35,413.67 L1284.60,412.97 L1284.85,411.59 L1285.10,411.15 L1285.35,411.70 L1285.60,410.12 L1285.85,412.33 L1286.10,411.48 L1286.35,409.80 L1286.60,411.54 L1286.85,412.96 L1287.10,410.47 L1287.35,411.41 L1287.60,413.54 L1287.85,411.78 L1288.10,411.24 L1288.35,411.95 L1288.60,412.66 L1288.85,411.13 L1289.10,412.12 L1289.35,410.54 L1289.60,410.51 L1289.85,410.66 L1290.10,412.70 L1290.35,412.27 L1290.60,412.48 L1290.85,413.17 L1291.10,412.19 L1291.35,412.44 L1291.60,412.48 L1291.85,412.58 L1292.10,411.11 L1292.35,411.82 L1292.60,412.14 L1292.85,412.72 L1293.10,411.83 L1293.35,412.20 L1293.60,412.59 L1293.85,412.58 L1294.10,412.65 L1294.35,412.67 L1294.60,412.45 L1294.85,412.81 L1295.10,412.60 L1295.35,412.79 L1295.60,412.29 L1295.85,410.87 L1296.10,413.50 L1296.35,412.25 L1296.60,412.46 L1296.85,411.82 L1297.10,410.86 L1297.35,409.94 L1297.60,411.60 L1297.85,410.76 L1298.10,410.86 L1298.35,409.09 L1298.60,412.56 L1298.85,409.73 L1299.10,409.98 L1299.35,411.53 L1299.60,411.69 L1299.85,410.07 L1300.10,410.94 L1300.35,411.62 L1300.60,411.34 L1300.85,411.59 L1301.10,411.95 L1301.35,410.53 L1301.60,409.32 L1301.85,412.96 L1302.10,410.53 L1302.35,409.80 L1302.60,411.31 L1302.85,411.26 L1303.10,410.47 L1303.35,413.44 L1303.60,409.08 L1303.85,412.31 L1304.10,410.88 L1304.35,411.27 L1304.60,411.71 L1304.85,411.39 L1305.10,412.12 L1305.35,410.63 L1305.60,411.65 L1305.85,413.87 L1306.10,409.63 L1306.35,413.41 L1306.60,409.93 L1306.85,410.89 L1307.10,412.68 L1307.35,411.54 L1307.60,411.31 L1307.85,410.35 L1308.10,411.62 L1308.35,411.48 L1308.60,410.74 L1308.85,409.73 L1309.10,411.40 L1309.35,411.49 L1309.60,412.09 L1309.85,411.57 L1310.10,413.08 L1310.35,412.72 L1310.60,408.89 L1310.85,412.96 L1311.10,411.15 L1311.35,410.21 L1311.60,411.79 L1311.85,412.27 L1312.10,410.04 L1312.35,410.55 L1312.60,412.38 L1312.85,411.07 L1313.10,412.99 L1313.35,411.44 L1313.60,410.79 L1313.85,410.10 L1314.10,412.08 L1314.35,409.77 L1314.60,410.23 L1314.85,410.17 L1315.10,413.29 L1315.35,413.04 L1315.60,411.13 L1315.85,411.02 L1316.10,412.18 L1316.35,412.62 L1316.60,410.70 L1316.85,413.73 L1317.10,411.55 L1317.35,412.86 L1317.60,409.81 L1317.85,411.97 L1318.10,411.27 L1318.35,413.64 L1318.60,411.69 L1318.85,410.83 L1319.10,413.80 L1319.35,411.34 L1319.60,411.89 L1319.85,410.63 L1320.10,412.56 L1320.35,412.00 L1320.60,411.37 L1320.85,411.15 L1321.10,410.97 L1321.35,410.95 L1321.60,410.41 L1321.85,412.68 L1322.10,412.17 L1322.35,410.19 L1322.60,410.43 L1322.85,412.12 L1323.10,413.86 L1323.35,411.36 L1323.60,411.23 L1323.85,411.38 L1324.10,411.85 L1324.35,411.60 L1324.60,412.64 L1324.85,412.67 L1325.10,412.39 L1325.35,413.33 L1325.60,411.56 L1325.85,410.96 L1326.10,414.19 L1326.35,409.36 L1326.60,409.55 L1326.85,408.71 L1327.10,411.64 L1327.35,410.32 L1327.60,412.23 L1327.85,409.11 L1328.10,410.63 L1328.35,410.52 L1328.60,409.88 L1328.85,412.08 L1329.10,410.75 L1329.35,411.50 L1329.60,410.64 L1329.85,411.17 L1330.10,410.54 L1330.35,410.84 L1330.60,410.53 L1330.85,410.05 L1331.10,411.22 L1331.35,410.89 L1331.60,410.02 L1331.85,409.95 L1332.10,411.16 L1332.35,412.24 L1332.60,409.88 L1332.85,410.57 L1333.10,411.79 L1333.35,412.68 L1333.60,412.42 L1333.85,410.66 L1334.10,411.72 L1334.35,412.55 L1334.60,411.97 L1334.85,411.65 L1335.10,410.81 L1335.35,412.07 L1335.60,411.55 L1335.85,411.85 L1336.10,413.70 L1336.35,413.04 L1336.60,410.92 L1336.85,411.75 L1337.10,411.32 L1337.35,411.72 L1337.60,413.27 L1337.85,412.61 L1338.10,411.86 L1338.35,411.03 L1338.60,411.74 L1338.85,412.41 L1339.10,411.45 L1339.35,412.58 L1339.60,411.68 L1339.85,410.58 L1340.10,413.74 L1340.35,409.03 L1340.60,411.64 L1340.85,411.59 L1341.10,412.76 L1341.35,412.75 L1341.60,413.35 L1341.85,413.31 L1342.10,411.99 L1342.35,412.05 L1342.60,413.18 L1342.85,412.31 L1343.10,411.11 L1343.35,411.77 L1343.60,412.89 L1343.85,412.81 L1344.10,411.55 L1344.35,413.74 L1344.60,412.75 L1344.85,410.72 L1345.10,412.74 L1345.35,413.41 L1345.60,412.61 L1345.85,411.68 L1346.10,411.06 L1346.35,413.17 L1346.60,412.32 L1346.85,411.79 L1347.10,411.47 L1347.35,410.65 L1347.60,409.74 L1347.85,411.28 L1348.10,412.85 L1348.35,412.15 L1348.60,410.76 L1348.85,412.81 L1349.10,411.13 L1349.35,410.49 L1349.60,412.32 L1349.85,412.46 L1350.10,410.92 L1350.35,410.08 L1350.60,411.32 L1350.85,408.91 L1351.10,411.36 L1351.35,412.82 L1351.60,411.98 L1351.85,410.87 L1352.10,412.31 L1352.35,411.14 L1352.60,412.92 L1352.85,411.35 L1353.10,413.86 L1353.35,411.57 L1353.60,412.05 L1353.85,410.74 L1354.10,410.51 L1354.35,412.13 L1354.60,412.18 L1354.85,410.72 L1355.10,412.18 L1355.35,411.26 L1355.60,411.02 L1355.85,411.37 L1356.10,411.70 L1356.35,411.90 L1356.60,412.38 L1356.85,411.45 L1357.10,410.48 L1357.35,410.42 L1357.60,411.48 L1357.85,409.78 L1358.10,410.93 L1358.35,410.83 L1358.60,411.29 L1358.85,411.73 L1359.10,412.51 L1359.35,413.07 L1359.60,412.29 L1359.85,412.74 L1360.10,410.82 L1360.35,412.81 L1360.60,413.04 L1360.85,410.33 L1361.10,414.34 L1361.35,411.21 L1361.60,409.51 L1361.85,413.41 L1362.10,411.91 L1362.35,411.03 L1362.60,411.04 L1362.85,412.88 L1363.10,411.88 L1363.35,411.25 L1363.60,412.70 L1363.85,411.06 L1364.10,410.98 L1364.35,410.99 L1364.60,410.84 L1364.85,411.96 L1365.10,410.87 L1365.35,409.87 L1365.60,410.64 L1365.85,409.18 L1366.10,411.01 L1366.35,410.91 L1366.60,411.26 L1366.85,410.25 L1367.10,410.57 L1367.35,409.33 L1367.60,410.20 L1367.85,410.37 L1368.10,409.31 L1368.35,411.03 L1368.60,410.68 L1368.85,410.53 L1369.10,410.23 L1369.35,412.84 L1369.60,410.83 L1369.85,410.34 L1370.10,410.67 L1370.35,411.94 L1370.60,411.69 L1370.85,411.21 L1371.10,411.25 L1371.35,412.75 L1371.60,412.09 L1371.85,412.89 L1372.10,411.79 L1372.35,410.62 L1372.60,412.65 L1372.85,411.98 L1373.10,411.08 L1373.35,411.21 L1373.60,410.67 L1373.85,412.04 L1374.10,410.87 L1374.35,411.76 L1374.60,411.61 L1374.85,411.20 L1375.10,411.91 L1375.35,411.52 L1375.60,410.39 L1375.85,411.17 L1376.10,410.81 L1376.35,412.76 L1376.60,412.73 L1376.85,411.67 L1377.10,412.69 L1377.35,412.52 L1377.60,413.08 L1377.85,411.13 L1378.10,411.90 L1378.35,411.00 L1378.60,411.13 L1378.85,413.25 L1379.10,409.78 L1379.35,410.73 L1379.60,412.01 L1379.85,412.36 L1380.10,410.89 L1380.35,409.79 L1380.60,409.86 L1380.85,411.91 L1381.10,412.70 L1381.35,412.58 L1381.60,410.93 L1381.85,413.13 L1382.10,411.70 L1382.35,412.60 L1382.60,411.75 L1382.85,413.28 L1383.10,411.14 L1383.35,409.73 L1383.60,411.47 L1383.85,412.08 L1384.10,412.25 L1384.35,411.40 L1384.60,411.87 L1384.85,411.27 L1385.10,411.79 L1385.35,412.11 L1385.60,412.36 L1385.85,413.87 L1386.10,410.44 L1386.35,412.83 L1386.60,412.60 L1386.85,411.28 L1387.10,412.29 L1387.35,412.38 L1387.60,411.34 L1387.85,412.86 L1388.10,413.74 L1388.35,412.39 L1388.60,412.63 L1388.85,412.54 L1389.10,411.18 L1389.35,412.10 L1389.60,410.48 L1389.85,411.47 L1390.10,411.82 L1390.35,412.50 L1390.60,410.86 L1390.85,411.06 L1391.10,411.89 L1391.35,411.61 L1391.60,412.08 L1391.85,412.71 L1392.10,411.31 L1392.35,413.00 L1392.60,412.55 L1392.85,411.96 L1393.10,410.87 L1393.35,411.41 L1393.60,412.08 L1393.85,412.98 L1394.10,410.12 L1394.35,412.56 L1394.60,411.66 L1394.85,410.59 L1395.10,412.41 L1395.35,411.97 L1395.60,412.05 L1395.85,410.67 L1396.10,410.40 L1396.35,412.52 L1396.60,412.96 L1396.85,411.97 L1397.10,411.39 L1397.35,411.02 L1397.60,409.87 L1397.85,412.57 L1398.10,411.50 L1398.35,412.91 L1398.60,411.16 L1398.85,412.79 L1399.10,411.33 L1399.35,412.85 L1399.60,413.27 L1399.85,411.51 L1400.10,413.01 L1400.35,412.14 L1400.60,411.29 L1400.85,412.31 L1401.10,412.94 L1401.35,411.38 L1401.60,411.75 L1401.85,411.61 L1402.10,411.42 L1402.35,411.82 L1402.60,412.53 L1402.85,411.21 L1403.10,412.61 L1403.35,411.10 L1403.60,410.74 L1403.85,412.19 L1404.10,412.52 L1404.35,410.25 L1404.60,411.61 L1404.85,409.78 L1405.10,410.45 L1405.35,410.39 L1405.60,411.31 L1405.85,409.42 L1406.10,410.31 L1406.35,410.15 L1406.60,410.91 L1406.85,409.64 L1407.10,409.79 L1407.35,413.66 L1407.60,411.46 L1407.85,409.61 L1408.10,411.74 L1408.35,409.66 L1408.60,409.31 L1408.85,412.65 L1409.10,412.32 L1409.35,410.36 L1409.60,410.12 L1409.85,411.57 L1410.10,413.17 L1410.35,411.60 L1410.60,411.71 L1410.85,410.06 L1411.10,409.60 L1411.35,411.76 L1411.60,412.19 L1411.85,411.21 L1412.10,411.19 L1412.35,412.64 L1412.60,410.52 L1412.85,412.26 L1413.10,411.95 L1413.35,410.18 L1413.60,410.95 L1413.85,410.99 L1414.10,411.30 L1414.35,409.84 L1414.60,410.56 L1414.85,411.02 L1415.10,411.38 L1415.35,411.34 L1415.60,411.43 L1415.85,411.05 L1416.10,411.01 L1416.35,412.39 L1416.60,411.28 L1416.85,411.90 L1417.10,411.31 L1417.35,410.99 L1417.60,412.60 L1417.85,412.45 L1418.10,412.27 L1418.35,412.58 L1418.60,412.24 L1418.85,412.72 L1419.10,413.72 L1419.35,412.16 L1419.60,411.63 L1419.85,413.53 L1420.10,412.45 L1420.35,410.27 L1420.60,413.38 L1420.85,412.32 L1421.10,412.92 L1421.35,410.97 L1421.60,411.24 L1421.85,411.22 L1422.10,412.41 L1422.35,410.84 L1422.60,411.30 L1422.85,412.80 L1423.10,411.24 L1423.35,412.02 L1423.60,411.12 L1423.85,410.02 L1424.10,411.70 L1424.35,411.56 L1424.60,410.45 L1424.85,412.43 L1425.10,412.35 L1425.35,412.66 L1425.60,411.38 L1425.85,410.84 L1426.10,411.76 L1426.35,411.98 L1426.60,411.51 L1426.85,411.12 L1427.10,410.87 L1427.35,410.92 L1427.60,411.45 L1427.85,410.93 L1428.10,413.32 L1428.35,411.43 L1428.60,412.22 L1428.85,411.45 L1429.10,411.66 L1429.35,411.22 L1429.60,411.73 L1429.85,410.82 L1430.10,410.29 L1430.35,413.52 L1430.60,411.46 L1430.85,412.91 L1431.10,412.50 L1431.35,411.75 L1431.60,412.91 L1431.85,411.65 L1432.10,412.68 L1432.35,411.93 L1432.60,413.04 L1432.85,412.91 L1433.10,412.07 L1433.35,412.81 L1433.60,412.30 L1433.85,413.41 L1434.10,411.79 L1434.35,410.34 L1434.60,411.89 L1434.85,412.08 L1435.10,411.57 L1435.35,411.80 L1435.60,411.51 L1435.85,410.74 L1436.10,413.51 L1436.35,411.26 L1436.60,411.19 L1436.85,410.53 L1437.10,410.87 L1437.35,411.69 L1437.60,413.03 L1437.85,412.32 L1438.10,411.12 L1438.35,410.35 L1438.60,410.27 L1438.85,411.70 L1439.10,412.40 L1439.35,411.21 L1439.60,413.22 L1439.85,413.51 L1440.10,411.95 L1440.35,409.71 L1440.60,412.59 L1440.85,411.92 L1441.10,412.50 L1441.35,412.71 L1441.60,410.91 L1441.85,411.86 L1442.10,411.68 L1442.35,410.62 L1442.60,411.91 L1442.85,410.94 L1443.10,410.72 L1443.35,413.03 L1443.60,411.23 L1443.85,412.60 L1444.10,410.46 L1444.35,411.70 L1444.60,410.10 L1444.85,411.11 L1445.10,412.19 L1445.35,409.27 L1445.60,411.75 L1445.85,411.15 L1446.10,412.42 L1446.35,411.50 L1446.60,411.08 L1446.85,410.15 L1447.10,414.10 L1447.35,411.12 L1447.60,411.32 L1447.85,410.70 L1448.10,411.01 L1448.35,411.33 L1448.60,409.71 L1448.85,411.85 L1449.10,410.55 L1449.35,411.51 L1449.60,408.85 L1449.85,410.35 L1450.10,410.67 L1450.35,410.59 L1450.60,409.99 L1450.85,411.07 L1451.10,411.42 L1451.35,409.97 L1451.60,408.95 L1451.85,411.73 L1452.10,411.28 L1452.35,412.54 L1452.60,412.30 L1452.85,411.41 L1453.10,410.06 L1453.35,411.03 L1453.60,410.72 L1453.85,412.68 L1454.10,410.27 L1454.35,412.81 L1454.60,410.48 L1454.85,411.36 L1455.10,410.46 L1455.35,411.01 L1455.60,411.21 L1455.85,411.63 L1456.10,410.68 L1456.35,412.08 L1456.60,413.17 L1456.85,411.96 L1457.10,410.87 L1457.35,411.54 L1457.60,411.63 L1457.85,411.59 L1458.10,413.07 L1458.35,412.95 L1458.60,413.64 L1458.85,412.28 L1459.10,409.78 L1459.35,412.50 L1459.60,413.15 L1459.85,411.86 L1460.10,411.71 L1460.35,412.90 L1460.60,412.21 L1460.85,410.98 L1461.10,411.70 L1461.35,409.42 L1461.60,412.35 L1461.85,411.14 L1462.10,412.22 L1462.35,411.04 L1462.60,411.08 L1462.85,411.42 L1463.10,414.30 L1463.35,410.68 L1463.60,410.74 L1463.85,411.06 L1464.10,412.38 L1464.35,412.21 L1464.60,412.04 L1464.85,411.26 L1465.10,411.89 L1465.35,410.94 L1465.60,411.53 L1465.85,410.68 L1466.10,410.12 L1466.35,410.77 L1466.60,413.46 L1466.85,411.87 L1467.10,410.92 L1467.35,411.46 L1467.60,410.92 L1467.85,412.61 L1468.10,411.28 L1468.35,410.52 L1468.60,411.71 L1468.85,411.42 L1469.10,410.80 L1469.35,410.69 L1469.60,411.28 L1469.85,409.67 L1470.10,410.56 L1470.35,412.45 L1470.60,412.39 L1470.85,412.53 L1471.10,410.91 L1471.35,410.59 L1471.60,410.76 L1471.85,410.73 L1472.10,412.67" fill="none" stroke="#000" stroke-width="3.40" stroke-linejoin="round" stroke-linecap="round"/>
<path d="M878.60,409.75 L878.90,410.49 L879.20,409.86 L879.50,409.53 L879.80,409.48 L880.10,409.74 L880.40,410.95 L880.70,410.59 L881.00,410.90 L881.30,410.54 L881.60,410.99 L881.90,410.79 L882.20,409.48 L882.50,411.62 L882.80,411.48 L883.10,411.41 L883.40,409.60 L883.70,409.49 L884.00,409.94 L884.30,409.84 L884.60,410.18 L884.90,409.94 L885.20,410.40 L885.50,410.11 L885.80,410.24 L886.10,410.35 L886.40,409.25 L886.70,411.59 L887.00,411.52 L887.30,411.40 L887.60,410.42 L887.90,410.49 L888.20,410.60 L888.50,410.97 L888.80,410.47 L889.10,411.06 L889.40,410.74 L889.70,410.85 L890.00,410.81 L890.30,411.54 L890.60,410.61 L890.90,411.37 L891.20,411.24 L891.50,409.43 L891.80,410.37 L892.10,411.84 L892.40,409.49 L892.70,410.38 L893.00,410.51 L893.30,410.31 L893.60,411.11 L893.90,411.13 L894.20,410.58 L894.50,412.09 L894.80,412.05 L895.10,412.46 L895.40,413.13 L895.70,412.41 L896.00,412.65 L896.30,411.52 L896.60,412.54 L896.90,411.86 L897.20,411.45 L897.50,409.96 L897.80,410.15 L898.10,411.52 L898.40,413.05 L898.70,410.19 L899.00,410.19 L899.30,411.24 L899.60,412.05 L899.90,411.94 L900.20,409.97 L900.50,409.49 L900.80,412.26 L901.10,411.59 L901.40,410.78 L901.70,411.78 L902.00,411.96 L902.30,411.55 L902.60,411.39 L902.90,411.26 L903.20,411.22 L903.50,410.25 L903.80,410.26 L904.10,409.96 L904.40,408.63 L904.70,410.71 L905.00,410.51 L905.30,410.10 L905.60,408.09 L905.90,408.69 L906.20,410.13 L906.50,408.92 L906.80,410.49 L907.10,411.49 L907.40,409.82 L907.70,412.08 L908.00,411.20 L908.30,410.86 L908.60,411.53 L908.90,411.98 L909.20,412.43 L909.50,413.05 L909.80,411.58 L910.10,411.43 L910.40,412.29 L910.70,412.00 L911.00,411.56 L911.30,412.84 L911.60,413.16 L911.90,411.97 L912.20,411.46 L912.50,412.31 L912.80,412.13 L913.10,411.96 L913.40,413.45 L913.70,412.29 L914.00,413.54 L914.30,411.14 L914.60,411.38 L914.90,412.08 L915.20,411.94 L915.50,411.92 L915.80,411.12 L916.10,411.28 L916.40,411.97 L916.70,412.44 L917.00,411.65 L917.30,411.79 L917.60,412.30 L917.90,412.38 L918.20,413.23 L918.50,413.60 L918.80,414.27 L919.10,413.37 L919.40,412.79 L919.70,412.41 L920.00,412.69 L920.30,412.91 L920.60,412.17 L920.90,412.63 L921.20,413.12 L921.50,409.81 L921.80,410.71 L922.10,412.12 L922.40,412.26 L922.70,412.27 L923.00,411.33 L923.30,412.24 L923.60,412.34 L923.90,411.78 L924.20,413.52 L924.50,412.20 L924.80,411.37 L925.10,411.51 L925.40,411.06 L925.70,411.03 L926.00,409.15 L926.30,410.89 L926.60,411.81 L926.90,410.11 L927.20,410.45 L927.50,411.39 L927.80,411.15 L928.10,411.62 L928.40,409.28 L928.70,410.18 L929.00,409.90 L929.30,410.47 L929.60,411.35 L929.90,408.53 L930.20,411.29 L930.50,409.98 L930.80,411.49 L931.10,410.14 L931.40,411.73 L931.70,412.51 L932.00,410.91 L932.30,411.43 L932.60,411.68 L932.90,411.03 L933.20,410.56 L933.50,411.76 L933.80,411.92 L934.10,410.76 L934.40,412.62 L934.70,409.38 L935.00,410.27 L935.30,409.57 L935.60,409.94 L935.90,410.40 L936.20,409.46 L936.50,409.54 L936.80,408.14 L937.10,407.44 L937.40,409.09 L937.70,408.33 L938.00,408.96 L938.30,409.69 L938.60,412.31 L938.90,411.89 L939.20,412.60 L939.50,411.80 L939.80,413.16 L940.10,412.13 L940.40,413.77 L940.70,414.50 L941.00,412.70 L941.30,413.96 L941.60,412.78 L941.90,411.58 L942.20,409.92 L942.50,412.53 L942.80,411.18 L943.10,410.19 L943.40,411.30 L943.70,411.41 L944.00,411.64 L944.30,410.31 L944.60,412.14 L944.90,413.20 L945.20,413.01 L945.50,412.37 L945.80,411.78 L946.10,412.93 L946.40,412.63 L946.70,412.56 L947.00,412.89 L947.30,411.87 L947.60,409.67 L947.90,410.67 L948.20,409.00 L948.50,411.26 L948.80,410.84 L949.10,410.10 L949.40,410.31 L949.70,410.75 L950.00,410.20 L950.30,411.62 L950.60,410.97 L950.90,412.00 L951.20,412.82 L951.50,412.91 L951.80,411.38 L952.10,412.68 L952.40,410.68 L952.70,411.60 L953.00,410.82 L953.30,412.96 L953.60,411.21 L953.90,411.65 L954.20,411.77 L954.50,411.29 L954.80,411.35 L955.10,411.61 L955.40,412.38 L955.70,411.29 L956.00,411.35 L956.30,412.01 L956.60,410.80 L956.90,410.17 L957.20,411.04 L957.50,412.07 L957.80,409.72 L958.10,410.43 L958.40,411.72 L958.70,411.18 L959.00,410.59 L959.30,411.34 L959.60,411.08 L959.90,410.02 L960.20,409.96 L960.50,410.57 L960.80,412.18 L961.10,411.77 L961.40,411.42 L961.70,411.42 L962.00,411.04 L962.30,412.28 L962.60,411.64 L962.90,412.83 L963.20,411.39 L963.50,412.76 L963.80,411.72 L964.10,410.08 L964.40,411.82 L964.70,410.75 L965.00,409.62 L965.30,410.91 L965.60,411.40 L965.90,410.70 L966.20,411.16 L966.50,410.98 L966.80,411.24 L967.10,411.64 L967.40,412.33 L967.70,411.66 L968.00,412.06 L968.30,410.17 L968.60,412.44 L968.90,412.40 L969.20,411.15 L969.50,411.08 L969.80,412.36 L970.10,409.47 L970.40,410.97 L970.70,412.77 L971.00,411.17 L971.30,411.75 L971.60,412.22 L971.90,410.67 L972.20,411.77 L972.50,412.14 L972.80,410.55 L973.10,411.66 L973.40,412.24 L973.70,412.57 L974.00,411.59 L974.30,411.17 L974.60,411.00 L974.90,411.66 L975.20,411.96 L975.50,411.26 L975.80,410.66 L976.10,410.99 L976.40,413.47 L976.70,412.07 L977.00,411.56 L977.30,409.35 L977.60,411.66 L977.90,411.76 L978.20,412.67 L978.50,412.74 L978.80,412.68 L979.10,413.17 L979.40,411.58 L979.70,413.87 L980.00,413.48 L980.30,412.75 L980.60,413.99 L980.90,414.30 L981.20,411.99 L981.50,412.70 L981.80,412.97 L982.10,412.48 L982.40,411.92 L982.70,411.04 L983.00,413.03 L983.30,412.21 L983.60,410.41 L983.90,410.38 L984.20,412.20 L984.50,411.59 L984.80,412.29 L985.10,411.16 L985.40,410.25 L985.70,411.22 L986.00,409.73 L986.30,410.10 L986.60,410.51 L986.90,411.03 L987.20,410.42 L987.50,410.95 L987.80,410.66 L988.10,410.41 L988.40,410.55 L988.70,410.24 L989.00,409.36 L989.30,410.11 L989.60,409.75 L989.90,409.19 L990.20,409.79 L990.50,410.35 L990.80,410.51 L991.10,411.26 L991.40,410.72 L991.70,411.09 L992.00,410.52 L992.30,409.79 L992.60,411.25 L992.90,411.72 L993.20,411.25 L993.50,410.25 L993.80,409.99 L994.10,409.00 L994.40,408.59 L994.70,410.38 L995.00,409.58 L995.30,410.23 L995.60,409.23 L995.90,408.32 L996.20,409.68 L996.50,411.91 L996.80,411.14 L997.10,411.22 L997.40,411.39 L997.70,412.22 L998.00,412.35 L998.30,411.99 L998.60,413.46 L998.90,412.53 L999.20,411.71 L999.50,412.21 L999.80,412.46 L1000.10,411.13 L1000.40,411.21 L1000.70,409.93 L1001.00,410.69 L1001.30,410.80 L1001.60,410.71 L1001.90,412.26 L1002.20,412.76 L1002.50,412.95 L1002.80,412.09 L1003.10,414.24 L1003.40,414.07 L1003.70,412.98 L1004.00,413.13 L1004.30,414.20 L1004.60,412.64 L1004.90,413.12 L1005.20,412.85 L1005.50,411.75 L1005.80,411.37 L1006.10,412.53 L1006.40,412.57 L1006.70,412.96 L1007.00,412.89 L1007.30,412.21 L1007.60,413.22 L1007.90,413.11 L1008.20,413.29 L1008.50,413.16 L1008.80,412.57 L1009.10,412.52 L1009.40,411.09 L1009.70,411.59 L1010.00,412.56 L1010.30,410.90 L1010.60,412.03 L1010.90,411.01 L1011.20,411.24 L1011.50,411.62 L1011.80,411.53 L1012.10,411.30 L1012.40,411.44 L1012.70,410.67 L1013.00,412.65 L1013.30,411.23 L1013.60,411.69 L1013.90,409.90 L1014.20,410.33 L1014.50,409.45 L1014.80,411.54 L1015.10,411.99 L1015.40,410.13 L1015.70,411.43 L1016.00,411.97 L1016.30,410.40 L1016.60,410.51 L1016.90,410.88 L1017.20,411.47 L1017.50,410.67 L1017.80,411.62 L1018.10,412.13 L1018.40,411.81 L1018.70,412.28 L1019.00,413.03 L1019.30,412.97 L1019.60,411.09 L1019.90,411.68 L1020.20,411.95 L1020.50,411.76 L1020.80,412.55 L1021.10,413.40 L1021.40,413.35 L1021.70,412.00 L1022.00,411.67 L1022.30,412.47 L1022.60,412.07 L1022.90,412.27 L1023.20,412.57 L1023.50,411.66 L1023.80,412.82 L1024.10,412.96 L1024.40,411.82 L1024.70,411.62 L1025.00,412.51 L1025.30,410.55 L1025.60,411.40 L1025.90,411.78 L1026.20,410.21 L1026.50,411.10 L1026.80,410.69 L1027.10,409.63 L1027.40,410.42 L1027.70,410.23 L1028.00,410.44 L1028.30,409.64 L1028.60,409.71 L1028.90,409.22 L1029.20,409.90 L1029.50,410.42 L1029.80,411.00 L1030.10,411.06 L1030.40,410.23 L1030.70,409.30 L1031.00,410.41 L1031.30,409.94 L1031.60,410.16 L1031.90,410.20 L1032.20,410.00 L1032.50,410.94 L1032.80,411.24 L1033.10,410.15 L1033.40,412.21 L1033.70,410.12 L1034.00,410.85 L1034.30,409.96 L1034.60,411.12 L1034.90,408.75 L1035.20,410.33 L1035.50,410.93 L1035.80,410.45 L1036.10,411.97 L1036.40,410.93 L1036.70,411.30 L1037.00,410.67 L1037.30,410.86 L1037.60,411.33 L1037.90,410.41 L1038.20,410.77 L1038.50,409.73 L1038.80,411.50 L1039.10,410.15 L1039.40,410.38 L1039.70,411.38 L1040.00,410.37 L1040.30,410.87 L1040.60,412.21 L1040.90,410.40 L1041.20,410.03 L1041.50,410.86 L1041.80,411.28 L1042.10,411.14 L1042.40,410.31 L1042.70,412.51 L1043.00,412.52 L1043.30,411.08 L1043.60,411.22 L1043.90,410.33 L1044.20,412.03 L1044.50,409.95 L1044.80,410.83 L1045.10,409.53 L1045.40,409.30 L1045.70,410.04 L1046.00,410.56 L1046.30,409.70 L1046.60,409.43 L1046.90,410.41 L1047.20,409.68 L1047.50,410.31 L1047.80,411.91 L1048.10,411.89 L1048.40,410.78 L1048.70,413.28 L1049.00,411.85 L1049.30,412.37 L1049.60,411.47 L1049.90,411.88 L1050.20,410.81 L1050.50,413.37 L1050.80,412.35 L1051.10,410.72 L1051.40,410.11 L1051.70,409.98 L1052.00,411.52 L1052.30,410.20 L1052.60,410.02 L1052.90,409.77 L1053.20,409.46 L1053.50,408.80 L1053.80,409.58 L1054.10,408.93 L1054.40,409.49 L1054.70,409.96 L1055.00,410.39 L1055.30,410.21 L1055.60,409.31 L1055.90,410.24 L1056.20,409.66 L1056.50,411.44 L1056.80,410.63 L1057.10,410.07 L1057.40,409.74 L1057.70,409.61 L1058.00,409.66 L1058.30,409.90 L1058.60,410.50 L1058.90,410.83 L1059.20,410.56 L1059.50,412.12 L1059.80,410.08 L1060.10,411.08 L1060.40,413.23 L1060.70,410.15 L1061.00,410.88 L1061.30,411.35 L1061.60,411.32 L1061.90,411.50 L1062.20,411.43 L1062.50,411.81 L1062.80,410.99 L1063.10,411.66 L1063.40,409.64 L1063.70,410.22 L1064.00,410.78 L1064.30,410.25 L1064.60,409.88 L1064.90,411.20 L1065.20,410.11 L1065.50,411.35 L1065.80,411.92 L1066.10,412.37 L1066.40,412.68 L1066.70,412.69 L1067.00,412.13 L1067.30,413.07 L1067.60,413.55 L1067.90,412.95 L1068.20,413.05 L1068.50,413.60 L1068.80,411.94 L1069.10,413.39 L1069.40,413.92 L1069.70,411.68 L1070.00,411.30 L1070.30,410.82 L1070.60,411.87 L1070.90,410.72 L1071.20,410.89 L1071.50,409.41 L1071.80,410.03 L1072.10,410.18 L1072.40,409.17 L1072.70,411.28 L1073.00,410.98 L1073.30,409.93 L1073.60,411.72 L1073.90,411.25 L1074.20,411.83 L1074.50,411.90 L1074.80,411.50 L1075.10,412.50 L1075.40,414.13 L1075.70,411.97 L1076.00,411.67 L1076.30,411.26 L1076.60,411.24 L1076.90,411.96 L1077.20,413.01 L1077.50,412.48 L1077.80,412.84 L1078.10,413.64 L1078.40,411.74 L1078.70,411.04 L1079.00,411.78 L1079.30,411.47 L1079.60,410.87 L1079.90,410.92 L1080.20,412.14 L1080.50,411.79 L1080.80,410.36 L1081.10,411.39 L1081.40,411.62 L1081.70,411.93 L1082.00,411.27 L1082.30,411.31 L1082.60,411.73 L1082.90,412.88 L1083.20,412.66 L1083.50,411.41 L1083.80,412.31 L1084.10,410.82 L1084.40,411.01 L1084.70,410.98 L1085.00,411.91 L1085.30,410.60 L1085.60,410.67 L1085.90,410.64 L1086.20,408.82 L1086.50,410.14 L1086.80,409.82 L1087.10,410.39 L1087.40,409.95 L1087.70,409.34 L1088.00,410.55 L1088.30,410.89 L1088.60,410.85 L1088.90,412.35 L1089.20,411.02 L1089.50,410.80 L1089.80,411.28 L1090.10,410.11 L1090.40,410.66 L1090.70,410.76 L1091.00,410.68 L1091.30,410.37 L1091.60,410.34 L1091.90,409.14 L1092.20,409.49 L1092.50,411.01 L1092.80,409.92 L1093.10,412.30 L1093.40,409.86 L1093.70,410.39 L1094.00,410.49 L1094.30,411.42 L1094.60,409.93 L1094.90,409.23 L1095.20,411.93 L1095.50,412.27 L1095.80,411.77 L1096.10,413.17 L1096.40,411.54 L1096.70,411.67 L1097.00,412.25 L1097.30,411.63 L1097.60,412.46 L1097.90,410.61 L1098.20,411.03 L1098.50,408.16 L1098.80,411.12 L1099.10,410.61 L1099.40,411.29 L1099.70,412.08 L1100.00,410.88 L1100.30,410.68 L1100.60,411.20 L1100.90,410.97 L1101.20,411.06 L1101.50,412.19 L1101.80,412.14 L1102.10,412.35 L1102.40,412.12 L1102.70,413.00 L1103.00,412.76 L1103.30,412.01 L1103.60,412.64 L1103.90,411.65 L1104.20,411.06 L1104.50,412.67 L1104.80,411.93 L1105.10,411.59 L1105.40,412.94 L1105.70,412.61 L1106.00,410.80 L1106.30,412.64 L1106.60,411.64 L1106.90,412.21 L1107.20,411.66 L1107.50,411.93 L1107.80,410.86 L1108.10,412.89 L1108.40,410.95 L1108.70,410.57 L1109.00,410.90 L1109.30,410.96 L1109.60,411.70 L1109.90,411.11 L1110.20,411.34 L1110.50,409.66 L1110.80,410.30 L1111.10,410.64 L1111.40,410.99 L1111.70,410.44 L1112.00,410.57 L1112.30,411.49 L1112.60,409.97 L1112.90,411.01 L1113.20,412.02 L1113.50,410.82 L1113.80,412.42 L1114.10,410.85 L1114.40,411.60 L1114.70,411.13 L1115.00,410.98 L1115.30,411.60 L1115.60,412.73 L1115.90,411.46 L1116.20,410.92 L1116.50,411.26 L1116.80,410.25 L1117.10,411.02 L1117.40,411.68 L1117.70,411.98 L1118.00,412.36 L1118.30,411.16 L1118.60,412.85 L1118.90,411.27 L1119.20,410.77 L1119.50,410.60 L1119.80,410.14 L1120.10,411.08 L1120.40,410.59 L1120.70,410.05 L1121.00,409.71 L1121.30,410.65 L1121.60,409.32 L1121.90,409.30 L1122.20,409.60 L1122.50,409.46 L1122.80,408.93 L1123.10,412.12 L1123.40,411.92 L1123.70,408.80 L1124.00,410.16 L1124.30,411.06 L1124.60,411.67 L1124.90,411.62 L1125.20,411.27 L1125.50,410.91 L1125.80,411.40 L1126.10,412.46 L1126.40,411.10 L1126.70,411.12 L1127.00,412.52 L1127.30,411.51 L1127.60,412.29 L1127.90,412.20 L1128.20,411.22 L1128.50,410.86 L1128.80,411.05 L1129.10,411.69 L1129.40,411.07 L1129.70,410.27 L1130.00,410.66 L1130.30,410.71 L1130.60,410.39 L1130.90,411.01 L1131.20,408.96 L1131.50,409.00 L1131.80,407.15 L1132.10,409.79 L1132.40,407.44 L1132.70,408.48 L1133.00,409.44 L1133.30,408.00 L1133.60,409.38 L1133.90,409.36 L1134.20,408.33 L1134.50,410.01 L1134.80,410.42 L1135.10,408.31 L1135.40,410.48 L1135.70,410.13 L1136.00,410.48 L1136.30,410.56 L1136.60,411.62 L1136.90,410.78 L1137.20,411.61 L1137.50,410.47 L1137.80,411.00 L1138.10,409.91 L1138.40,410.30 L1138.70,411.34 L1139.00,410.82 L1139.30,409.44 L1139.60,408.81 L1139.90,409.18 L1140.20,409.40 L1140.50,409.92 L1140.80,409.77 L1141.10,410.07 L1141.40,409.84 L1141.70,410.77 L1142.00,409.39 L1142.30,409.18 L1142.60,410.69 L1142.90,409.66 L1143.20,408.70 L1143.50,408.53 L1143.80,408.64 L1144.10,409.32 L1144.40,408.84 L1144.70,407.93 L1145.00,409.38 L1145.30,409.58 L1145.60,408.66 L1145.90,409.83 L1146.20,408.99 L1146.50,409.37 L1146.80,410.57 L1147.10,410.93 L1147.40,409.26 L1147.70,410.43 L1148.00,409.50 L1148.30,411.32 L1148.60,409.07 L1148.90,410.36 L1149.20,409.39 L1149.50,410.21 L1149.80,410.82 L1150.10,407.27 L1150.40,408.52 L1150.70,409.39 L1151.00,409.01 L1151.30,408.56 L1151.60,410.55 L1151.90,409.29 L1152.20,408.06 L1152.50,409.76 L1152.80,408.07 L1153.10,410.62 L1153.40,408.91 L1153.70,409.70 L1154.00,410.48 L1154.30,409.85 L1154.60,408.69 L1154.90,408.87 L1155.20,410.79 L1155.50,410.75 L1155.80,410.01 L1156.10,411.30 L1156.40,410.90 L1156.70,411.20 L1157.00,409.45 L1157.30,411.11 L1157.60,411.74 L1157.90,411.49 L1158.20,411.56 L1158.50,409.64 L1158.80,411.56 L1159.10,411.55 L1159.40,412.64 L1159.70,409.91 L1160.00,410.90 L1160.30,410.61 L1160.60,411.17 L1160.90,410.67 L1161.20,412.22 L1161.50,411.02 L1161.80,411.38 L1162.10,410.25 L1162.40,410.48 L1162.70,410.25 L1163.00,409.74 L1163.30,411.42 L1163.60,411.10 L1163.90,410.24 L1164.20,410.39 L1164.50,410.72 L1164.80,409.49 L1165.10,410.24 L1165.40,410.98 L1165.70,410.91 L1166.00,410.16 L1166.30,409.22 L1166.60,411.40 L1166.90,410.49 L1167.20,410.05 L1167.50,409.67 L1167.80,409.91 L1168.10,411.01 L1168.40,410.21 L1168.70,410.51 L1169.00,410.69 L1168.00,409.60 L1170.30,407.60 L1172.60,403.90 L1175.90,396.00 L1178.60,382.80 L1179.90,356.40 L1180.60,330.00 L1181.50,280.00 L1182.70,209.50 L1183.50,170.00 L1184.20,155.00 L1185.40,159.00 L1186.50,170.00 L1187.30,209.50 L1188.50,280.00 L1189.10,330.00 L1189.80,356.40 L1191.00,368.00 L1191.80,373.50 L1192.70,375.30 L1193.80,374.30 L1195.10,371.50 L1196.40,356.40 L1197.00,330.00 L1197.30,280.00 L1198.50,209.50 L1199.00,175.00 L1199.90,150.00 L1201.30,155.00 L1202.20,175.00 L1203.10,209.50 L1204.30,280.00 L1205.00,330.00 L1205.60,356.40 L1206.90,382.80 L1209.60,396.00 L1213.50,403.90 L1218.80,407.80 L1226.00,410.00 L1232.00,410.90 L1232.50,409.92 L1232.80,410.65 L1233.10,410.56 L1233.40,411.31 L1233.70,410.48 L1234.00,411.31 L1234.30,409.69 L1234.60,410.02 L1234.90,412.00 L1235.20,412.63 L1235.50,412.31 L1235.80,411.53 L1236.10,412.98 L1236.40,410.41 L1236.70,411.16 L1237.00,411.69 L1237.30,411.23 L1237.60,410.07 L1237.90,409.35 L1238.20,411.57 L1238.50,409.95 L1238.80,408.97 L1239.10,409.63 L1239.40,410.56 L1239.70,407.79 L1240.00,410.21 L1240.30,410.45 L1240.60,408.88 L1240.90,411.25 L1241.20,409.83 L1241.50,411.70 L1241.80,411.94 L1242.10,413.24 L1242.40,411.11 L1242.70,411.71 L1243.00,412.76 L1243.30,411.45 L1243.60,411.20 L1243.90,411.12 L1244.20,411.29 L1244.50,410.42 L1244.80,412.09 L1245.10,412.08 L1245.40,411.68 L1245.70,413.25 L1246.00,411.32 L1246.30,412.51 L1246.60,411.37 L1246.90,412.38 L1247.20,410.98 L1247.50,412.09 L1247.80,411.83 L1248.10,411.27 L1248.40,410.80 L1248.70,410.88 L1249.00,410.32 L1249.30,409.54 L1249.60,410.84 L1249.90,411.02 L1250.20,411.04 L1250.50,410.28 L1250.80,411.17 L1251.10,411.50 L1251.40,410.47 L1251.70,410.51 L1252.00,411.73 L1252.30,411.40 L1252.60,411.09 L1252.90,411.05 L1253.20,409.89 L1253.50,409.83 L1253.80,410.71 L1254.10,409.04 L1254.40,409.61 L1254.70,410.07 L1255.00,410.24 L1255.30,409.46 L1255.60,410.27 L1255.90,409.69 L1256.20,409.88 L1256.50,410.05 L1256.80,409.97 L1257.10,410.15 L1257.40,408.87 L1257.70,408.78 L1258.00,409.51 L1258.30,409.95 L1258.60,411.50 L1258.90,409.77 L1259.20,410.79 L1259.50,410.44 L1259.80,410.74 L1260.10,411.06 L1260.40,411.97 L1260.70,412.09 L1261.00,412.57 L1261.30,410.97 L1261.60,412.72 L1261.90,412.49 L1262.20,411.99 L1262.50,412.39 L1262.80,411.73 L1263.10,410.69 L1263.40,411.18 L1263.70,410.80 L1264.00,413.19 L1264.30,410.80 L1264.60,412.63 L1264.90,411.37 L1265.20,411.39 L1265.50,411.43 L1265.80,410.33 L1266.10,411.30 L1266.40,411.23 L1266.70,410.34 L1267.00,412.08 L1267.30,412.26 L1267.60,412.69 L1267.90,413.34 L1268.20,411.58 L1268.50,412.65 L1268.80,413.27 L1269.10,412.15 L1269.40,413.41 L1269.70,412.08 L1270.00,412.04 L1270.30,412.90 L1270.60,411.55 L1270.90,412.09 L1271.20,410.87 L1271.50,412.72 L1271.80,411.61 L1272.10,412.52 L1272.40,411.11 L1272.70,412.61 L1273.00,411.59 L1273.30,412.24 L1273.60,412.33 L1273.90,412.74 L1274.20,411.81 L1274.50,411.36 L1274.80,413.05 L1275.10,412.22 L1275.40,412.40 L1275.70,412.54 L1276.00,411.16 L1276.30,412.46 L1276.60,411.32 L1276.90,410.99 L1277.20,411.84 L1277.50,411.56 L1277.80,410.47 L1278.10,410.07 L1278.40,411.02 L1278.70,409.75 L1279.00,411.20 L1279.30,411.63 L1279.60,409.51 L1279.90,410.91 L1280.20,411.72 L1280.50,411.65 L1280.80,412.16 L1281.10,411.80 L1281.40,412.10 L1281.70,411.61 L1282.00,412.46 L1282.30,413.44 L1282.60,412.65 L1282.90,413.99 L1283.20,412.04 L1283.50,413.83 L1283.80,413.49 L1284.10,411.80 L1284.40,414.41 L1284.70,413.87 L1285.00,413.32 L1285.30,412.51 L1285.60,412.42 L1285.90,412.78 L1286.20,411.17 L1286.50,409.09 L1286.80,410.64 L1287.10,410.70 L1287.40,411.34 L1287.70,411.14 L1288.00,410.70 L1288.30,411.03 L1288.60,411.79 L1288.90,410.20 L1289.20,413.80 L1289.50,412.08 L1289.80,411.50 L1290.10,413.23 L1290.40,412.85 L1290.70,411.94 L1291.00,413.43 L1291.30,411.98 L1291.60,412.79 L1291.90,414.66 L1292.20,413.88 L1292.50,412.73 L1292.80,413.79 L1293.10,414.27 L1293.40,412.99 L1293.70,411.76 L1294.00,412.79 L1294.30,413.05 L1294.60,413.24 L1294.90,414.46 L1295.20,412.94 L1295.50,412.28 L1295.80,412.25 L1296.10,413.39 L1296.40,411.88 L1296.70,413.72 L1297.00,410.93 L1297.30,413.29 L1297.60,412.12 L1297.90,412.94 L1298.20,412.46 L1298.50,410.89 L1298.80,411.78 L1299.10,411.71 L1299.40,411.51 L1299.70,410.37 L1300.00,409.99 L1300.30,408.42 L1300.60,411.74 L1300.90,409.81 L1301.20,409.45 L1301.50,408.71 L1301.80,409.81 L1302.10,409.24 L1302.40,410.76 L1302.70,410.80 L1303.00,410.19 L1303.30,411.00 L1303.60,410.38 L1303.90,410.66 L1304.20,410.33 L1304.50,409.67 L1304.80,410.43 L1305.10,411.22 L1305.40,411.88 L1305.70,408.84 L1306.00,410.59 L1306.30,410.65 L1306.60,411.13 L1306.90,411.37 L1307.20,411.42 L1307.50,411.55 L1307.80,411.47 L1308.10,411.96 L1308.40,411.35 L1308.70,409.69 L1309.00,410.41 L1309.30,410.19 L1309.60,410.61 L1309.90,411.31 L1310.20,411.77 L1310.50,411.52 L1310.80,410.21 L1311.10,410.33 L1311.40,410.06 L1311.70,411.49 L1312.00,411.94 L1312.30,412.71 L1312.60,411.72 L1312.90,409.64 L1313.20,409.55 L1313.50,408.98 L1313.80,409.99 L1314.10,411.63 L1314.40,410.96 L1314.70,408.67 L1315.00,409.05 L1315.30,409.36 L1315.60,410.81 L1315.90,411.03 L1316.20,411.09 L1316.50,412.52 L1316.80,410.48 L1317.10,410.52 L1317.40,412.71 L1317.70,411.91 L1318.00,411.61 L1318.30,410.55 L1318.60,410.28 L1318.90,409.64 L1319.20,410.95 L1319.50,411.14 L1319.80,411.95 L1320.10,411.83 L1320.40,411.15 L1320.70,411.17 L1321.00,413.13 L1321.30,409.85 L1321.60,411.38 L1321.90,411.52 L1322.20,411.64 L1322.50,411.17 L1322.80,412.01 L1323.10,411.91 L1323.40,410.95 L1323.70,411.22 L1324.00,411.50 L1324.30,410.85 L1324.60,411.93 L1324.90,411.54 L1325.20,411.85 L1325.50,413.01 L1325.80,412.03 L1326.10,411.25 L1326.40,412.01 L1326.70,411.44 L1327.00,411.19 L1327.30,410.55 L1327.60,410.59 L1327.90,409.84 L1328.20,409.80 L1328.50,410.85 L1328.80,410.94 L1329.10,411.12 L1329.40,410.31 L1329.70,410.44 L1330.00,410.15 L1330.30,409.68 L1330.60,411.43 L1330.90,411.40 L1331.20,411.15 L1331.50,411.01 L1331.80,412.75 L1332.10,410.58 L1332.40,413.02 L1332.70,412.55 L1333.00,413.65 L1333.30,411.43 L1333.60,411.58 L1333.90,410.78 L1334.20,411.02 L1334.50,410.86 L1334.80,410.52 L1335.10,411.51 L1335.40,410.35 L1335.70,410.68 L1336.00,411.05 L1336.30,410.31 L1336.60,410.43 L1336.90,411.10 L1337.20,410.66 L1337.50,410.16 L1337.80,410.80 L1338.10,410.42 L1338.40,411.85 L1338.70,410.15 L1339.00,411.69 L1339.30,410.60 L1339.60,411.20 L1339.90,411.19 L1340.20,411.56 L1340.50,412.52 L1340.80,412.91 L1341.10,411.24 L1341.40,412.83 L1341.70,412.60 L1342.00,411.98 L1342.30,410.70 L1342.60,412.26 L1342.90,410.95 L1343.20,411.66 L1343.50,411.52 L1343.80,411.65 L1344.10,412.08 L1344.40,412.14 L1344.70,410.99 L1345.00,411.56 L1345.30,412.24 L1345.60,410.36 L1345.90,411.82 L1346.20,409.64 L1346.50,410.60 L1346.80,410.39 L1347.10,410.93 L1347.40,409.97 L1347.70,409.34 L1348.00,409.20 L1348.30,409.11 L1348.60,410.48 L1348.90,409.63 L1349.20,409.32 L1349.50,410.76 L1349.80,410.28 L1350.10,410.90 L1350.40,411.32 L1350.70,412.92 L1351.00,412.75 L1351.30,411.43 L1351.60,411.06 L1351.90,412.43 L1352.20,412.63 L1352.50,412.43 L1352.80,412.82 L1353.10,411.93 L1353.40,412.31 L1353.70,412.33 L1354.00,412.27 L1354.30,411.83 L1354.60,412.18 L1354.90,412.56 L1355.20,411.03 L1355.50,412.01 L1355.80,412.59 L1356.10,411.82 L1356.40,413.06 L1356.70,413.08 L1357.00,412.90 L1357.30,413.21 L1357.60,411.75 L1357.90,412.42 L1358.20,412.52 L1358.50,413.03 L1358.80,411.63 L1359.10,412.23 L1359.40,412.15 L1359.70,412.65 L1360.00,412.43 L1360.30,411.94 L1360.60,412.91 L1360.90,411.29 L1361.20,411.00 L1361.50,411.26 L1361.80,410.59 L1362.10,411.09 L1362.40,409.53 L1362.70,410.38 L1363.00,411.11 L1363.30,411.24 L1363.60,410.72 L1363.90,411.76 L1364.20,410.46 L1364.50,411.11 L1364.80,409.70 L1365.10,410.70 L1365.40,410.43 L1365.70,412.12 L1366.00,411.51 L1366.30,410.77 L1366.60,411.94 L1366.90,412.00 L1367.20,411.77 L1367.50,411.44 L1367.80,410.61 L1368.10,410.85 L1368.40,409.59 L1368.70,411.10 L1369.00,412.37 L1369.30,412.62 L1369.60,410.98 L1369.90,410.70 L1370.20,410.76 L1370.50,411.34 L1370.80,411.15 L1371.10,410.96 L1371.40,411.73 L1371.70,411.66 L1372.00,412.07 L1372.30,410.93 L1372.60,409.95 L1372.90,410.72 L1373.20,411.21 L1373.50,410.04 L1373.80,410.86 L1374.10,411.54 L1374.40,410.92 L1374.70,410.37 L1375.00,412.44 L1375.30,411.59 L1375.60,412.12 L1375.90,410.36 L1376.20,412.14 L1376.50,410.12 L1376.80,410.71 L1377.10,412.03 L1377.40,412.49 L1377.70,410.68 L1378.00,411.29 L1378.30,411.92 L1378.60,410.85 L1378.90,412.59 L1379.20,413.07 L1379.50,412.85 L1379.80,413.16 L1380.10,413.24 L1380.40,412.27 L1380.70,412.42 L1381.00,413.40 L1381.30,411.59 L1381.60,411.97 L1381.90,410.94 L1382.20,412.09 L1382.50,410.51 L1382.80,410.90 L1383.10,410.89 L1383.40,410.69 L1383.70,412.18 L1384.00,411.06 L1384.30,412.20 L1384.60,412.13 L1384.90,412.54 L1385.20,411.62 L1385.50,411.90 L1385.80,412.37 L1386.10,411.38 L1386.40,412.00 L1386.70,411.88 L1387.00,412.41 L1387.30,412.90 L1387.60,411.50 L1387.90,410.52 L1388.20,410.27 L1388.50,411.40 L1388.80,411.52 L1389.10,411.73 L1389.40,412.31 L1389.70,413.01 L1390.00,411.66 L1390.30,411.10 L1390.60,410.42 L1390.90,410.86 L1391.20,411.61 L1391.50,411.72 L1391.80,409.21 L1392.10,411.64 L1392.40,412.49 L1392.70,411.73 L1393.00,410.27 L1393.30,411.52 L1393.60,411.57 L1393.90,411.33 L1394.20,410.35 L1394.50,410.67 L1394.80,411.80 L1395.10,410.26 L1395.40,411.49 L1395.70,410.66 L1396.00,411.00 L1396.30,410.24 L1396.60,410.95 L1396.90,412.71 L1397.20,411.60 L1397.50,414.40 L1397.80,411.47 L1398.10,411.60 L1398.40,412.11 L1398.70,412.40 L1399.00,412.12 L1399.30,411.22 L1399.60,411.22 L1399.90,411.08 L1400.20,410.75 L1400.50,409.63 L1400.80,412.14 L1401.10,411.99 L1401.40,411.83 L1401.70,411.89 L1402.00,412.54 L1402.30,412.46 L1402.60,412.85 L1402.90,413.87 L1403.20,411.68 L1403.50,413.12 L1403.80,412.23 L1404.10,412.32 L1404.40,413.37 L1404.70,411.86 L1405.00,412.43 L1405.30,412.09 L1405.60,412.95 L1405.90,411.38 L1406.20,410.60 L1406.50,412.49 L1406.80,411.66 L1407.10,411.74 L1407.40,412.65 L1407.70,411.25 L1408.00,411.59 L1408.30,412.09 L1408.60,412.39 L1408.90,412.18 L1409.20,413.25 L1409.50,414.35 L1409.80,411.87 L1410.10,413.25 L1410.40,410.89 L1410.70,413.54 L1411.00,411.95 L1411.30,412.22 L1411.60,411.34 L1411.90,410.94 L1412.20,410.44 L1412.50,411.40 L1412.80,412.16 L1413.10,412.72 L1413.40,411.96 L1413.70,411.31 L1414.00,410.94 L1414.30,411.01 L1414.60,413.07 L1414.90,412.58 L1415.20,412.21 L1415.50,411.67 L1415.80,410.56 L1416.10,411.79 L1416.40,411.25 L1416.70,409.77 L1417.00,411.04 L1417.30,410.15 L1417.60,411.42 L1417.90,410.26 L1418.20,410.42 L1418.50,410.93 L1418.80,411.06 L1419.10,411.60 L1419.40,410.69 L1419.70,412.09 L1420.00,412.04 L1420.30,411.11 L1420.60,411.33 L1420.90,410.34 L1421.20,410.68 L1421.50,410.22 L1421.80,411.43 L1422.10,411.81 L1422.40,412.72 L1422.70,412.23 L1423.00,412.32 L1423.30,411.61 L1423.60,411.77 L1423.90,411.62 L1424.20,411.77 L1424.50,410.99 L1424.80,413.17 L1425.10,411.58 L1425.40,411.61 L1425.70,412.07 L1426.00,411.93 L1426.30,412.95 L1426.60,411.66 L1426.90,412.38 L1427.20,412.06 L1427.50,411.58 L1427.80,411.85 L1428.10,411.68 L1428.40,410.91 L1428.70,411.68 L1429.00,411.13 L1429.30,411.56 L1429.60,412.16 L1429.90,412.37 L1430.20,413.33 L1430.50,413.35 L1430.80,412.45 L1431.10,411.76 L1431.40,412.88 L1431.70,411.56 L1432.00,411.05 L1432.30,412.22 L1432.60,410.51 L1432.90,411.27 L1433.20,410.27 L1433.50,411.77 L1433.80,410.11 L1434.10,410.97 L1434.40,412.19 L1434.70,410.14 L1435.00,412.12 L1435.30,410.31 L1435.60,410.47 L1435.90,412.28 L1436.20,412.40 L1436.50,412.06 L1436.80,410.89 L1437.10,412.57 L1437.40,412.38 L1437.70,412.09 L1438.00,411.69 L1438.30,410.59 L1438.60,411.31 L1438.90,412.13 L1439.20,411.72 L1439.50,410.71 L1439.80,410.11 L1440.10,410.48 L1440.40,411.19 L1440.70,410.97 L1441.00,409.57 L1441.30,411.05 L1441.60,410.75 L1441.90,411.39 L1442.20,411.41 L1442.50,411.56 L1442.80,411.98 L1443.10,410.43 L1443.40,412.36 L1443.70,410.63 L1444.00,411.46 L1444.30,411.91 L1444.60,410.71 L1444.90,410.89 L1445.20,410.34 L1445.50,411.64 L1445.80,411.14 L1446.10,410.88 L1446.40,411.52 L1446.70,409.85 L1447.00,411.10 L1447.30,410.92 L1447.60,410.84 L1447.90,411.55 L1448.20,412.35 L1448.50,410.84 L1448.80,410.44 L1449.10,410.38 L1449.40,410.97 L1449.70,411.83 L1450.00,410.92 L1450.30,412.43 L1450.60,411.29 L1450.90,412.55 L1451.20,412.40 L1451.50,412.44 L1451.80,413.91 L1452.10,413.01 L1452.40,413.06 L1452.70,412.90 L1453.00,412.68 L1453.30,410.94 L1453.60,412.19 L1453.90,411.35 L1454.20,412.25 L1454.50,412.52 L1454.80,411.76 L1455.10,411.45 L1455.40,411.13 L1455.70,409.42 L1456.00,412.51 L1456.30,413.11 L1456.60,412.25 L1456.90,411.72 L1457.20,411.57 L1457.50,412.01 L1457.80,413.21 L1458.10,412.43 L1458.40,413.72 L1458.70,410.87 L1459.00,411.90 L1459.30,412.51 L1459.60,412.08 L1459.90,411.18 L1460.20,412.02 L1460.50,413.47 L1460.80,410.96 L1461.10,411.13 L1461.40,410.65 L1461.70,411.09 L1462.00,411.96 L1462.30,412.15 L1462.60,409.64 L1462.90,411.65 L1463.20,410.73 L1463.50,410.28 L1463.80,411.21 L1464.10,411.10 L1464.40,410.54 L1464.70,411.34 L1465.00,410.88 L1465.30,410.57 L1465.60,410.82 L1465.90,412.12 L1466.20,412.12 L1466.50,410.47 L1466.80,413.43 L1467.10,411.26 L1467.40,411.44 L1467.70,411.07 L1468.00,411.89 L1468.30,411.13 L1468.60,412.14 L1468.90,413.88 L1469.20,412.34 L1469.50,411.21 L1469.80,412.09 L1470.10,411.58 L1470.40,411.81 L1470.70,412.09 L1471.00,412.09 L1471.30,410.99 L1471.60,411.66 L1471.90,410.69" fill="none" stroke="#dd2c1f" stroke-width="3.40" stroke-linejoin="round" stroke-linecap="round"/>
<line x1="114.50" y1="16.60" x2="114.50" y2="470.00" stroke="#000" stroke-width="2.70"/>
<line x1="113.20" y1="456.50" x2="709.30" y2="456.50" stroke="#000" stroke-width="2.70"/>
<line x1="101.00" y1="17.80" x2="114.50" y2="17.80" stroke="#000" stroke-width="2.70"/>
<line x1="101.00" y1="84.30" x2="114.50" y2="84.30" stroke="#000" stroke-width="2.70"/>
<line x1="101.00" y1="150.80" x2="114.50" y2="150.80" stroke="#000" stroke-width="2.70"/>
<line x1="101.00" y1="217.30" x2="114.50" y2="217.30" stroke="#000" stroke-width="2.70"/>
<line x1="101.00" y1="283.80" x2="114.50" y2="283.80" stroke="#000" stroke-width="2.70"/>
<line x1="101.00" y1="350.30" x2="114.50" y2="350.30" stroke="#000" stroke-width="2.70"/>
<line x1="101.00" y1="416.80" x2="114.50" y2="416.80" stroke="#000" stroke-width="2.70"/>
<line x1="114.50" y1="456.50" x2="114.50" y2="470.00" stroke="#000" stroke-width="2.70"/>
<line x1="134.28" y1="456.50" x2="134.28" y2="465.80" stroke="#000" stroke-width="2.70"/>
<line x1="154.07" y1="456.50" x2="154.07" y2="465.80" stroke="#000" stroke-width="2.70"/>
<line x1="173.85" y1="456.50" x2="173.85" y2="465.80" stroke="#000" stroke-width="2.70"/>
<line x1="193.63" y1="456.50" x2="193.63" y2="465.80" stroke="#000" stroke-width="2.70"/>
<line x1="213.42" y1="456.50" x2="213.42" y2="465.80" stroke="#000" stroke-width="2.70"/>
<line x1="233.20" y1="456.50" x2="233.20" y2="470.00" stroke="#000" stroke-width="2.70"/>
<line x1="252.98" y1="456.50" x2="252.98" y2="465.80" stroke="#000" stroke-width="2.70"/>
<line x1="272.77" y1="456.50" x2="272.77" y2="465.80" stroke="#000" stroke-width="2.70"/>
<line x1="292.55" y1="456.50" x2="292.55" y2="465.80" stroke="#000" stroke-width="2.70"/>
<line x1="312.33" y1="456.50" x2="312.33" y2="465.80" stroke="#000" stroke-width="2.70"/>
<line x1="332.12" y1="456.50" x2="332.12" y2="465.80" stroke="#000" stroke-width="2.70"/>
<line x1="351.90" y1="456.50" x2="351.90" y2="470.00" stroke="#000" stroke-width="2.70"/>
<line x1="371.68" y1="456.50" x2="371.68" y2="465.80" stroke="#000" stroke-width="2.70"/>
<line x1="391.47" y1="456.50" x2="391.47" y2="465.80" stroke="#000" stroke-width="2.70"/>
<line x1="411.25" y1="456.50" x2="411.25" y2="465.80" stroke="#000" stroke-width="2.70"/>
<line x1="431.03" y1="456.50" x2="431.03" y2="465.80" stroke="#000" stroke-width="2.70"/>
<line x1="450.82" y1="456.50" x2="450.82" y2="465.80" stroke="#000" stroke-width="2.70"/>
<line x1="470.60" y1="456.50" x2="470.60" y2="470.00" stroke="#000" stroke-width="2.70"/>
<line x1="490.38" y1="456.50" x2="490.38" y2="465.80" stroke="#000" stroke-width="2.70"/>
<line x1="510.17" y1="456.50" x2="510.17" y2="465.80" stroke="#000" stroke-width="2.70"/>
<line x1="529.95" y1="456.50" x2="529.95" y2="465.80" stroke="#000" stroke-width="2.70"/>
<line x1="549.73" y1="456.50" x2="549.73" y2="465.80" stroke="#000" stroke-width="2.70"/>
<line x1="569.52" y1="456.50" x2="569.52" y2="465.80" stroke="#000" stroke-width="2.70"/>
<line x1="589.30" y1="456.50" x2="589.30" y2="470.00" stroke="#000" stroke-width="2.70"/>
<line x1="609.08" y1="456.50" x2="609.08" y2="465.80" stroke="#000" stroke-width="2.70"/>
<line x1="628.87" y1="456.50" x2="628.87" y2="465.80" stroke="#000" stroke-width="2.70"/>
<line x1="648.65" y1="456.50" x2="648.65" y2="465.80" stroke="#000" stroke-width="2.70"/>
<line x1="668.43" y1="456.50" x2="668.43" y2="465.80" stroke="#000" stroke-width="2.70"/>
<line x1="688.22" y1="456.50" x2="688.22" y2="465.80" stroke="#000" stroke-width="2.70"/>
<line x1="708.00" y1="456.50" x2="708.00" y2="470.00" stroke="#000" stroke-width="2.70"/>
<line x1="878.60" y1="16.60" x2="878.60" y2="470.00" stroke="#000" stroke-width="2.70"/>
<line x1="877.30" y1="456.50" x2="1473.40" y2="456.50" stroke="#000" stroke-width="2.70"/>
<line x1="865.10" y1="17.80" x2="878.60" y2="17.80" stroke="#000" stroke-width="2.70"/>
<line x1="865.10" y1="149.10" x2="878.60" y2="149.10" stroke="#000" stroke-width="2.70"/>
<line x1="865.10" y1="280.40" x2="878.60" y2="280.40" stroke="#000" stroke-width="2.70"/>
<line x1="865.10" y1="411.60" x2="878.60" y2="411.60" stroke="#000" stroke-width="2.70"/>
<line x1="878.60" y1="456.50" x2="878.60" y2="470.00" stroke="#000" stroke-width="2.70"/>
<line x1="898.38" y1="456.50" x2="898.38" y2="465.80" stroke="#000" stroke-width="2.70"/>
<line x1="918.17" y1="456.50" x2="918.17" y2="465.80" stroke="#000" stroke-width="2.70"/>
<line x1="937.95" y1="456.50" x2="937.95" y2="465.80" stroke="#000" stroke-width="2.70"/>
<line x1="957.73" y1="456.50" x2="957.73" y2="465.80" stroke="#000" stroke-width="2.70"/>
<line x1="977.52" y1="456.50" x2="977.52" y2="465.80" stroke="#000" stroke-width="2.70"/>
<line x1="997.30" y1="456.50" x2="997.30" y2="470.00" stroke="#000" stroke-width="2.70"/>
<line x1="1017.08" y1="456.50" x2="1017.08" y2="465.80" stroke="#000" stroke-width="2.70"/>
<line x1="1036.87" y1="456.50" x2="1036.87" y2="465.80" stroke="#000" stroke-width="2.70"/>
<line x1="1056.65" y1="456.50" x2="1056.65" y2="465.80" stroke="#000" stroke-width="2.70"/>
<line x1="1076.43" y1="456.50" x2="1076.43" y2="465.80" stroke="#000" stroke-width="2.70"/>
<line x1="1096.22" y1="456.50" x2="1096.22" y2="465.80" stroke="#000" stroke-width="2.70"/>
<line x1="1116.00" y1="456.50" x2="1116.00" y2="470.00" stroke="#000" stroke-width="2.70"/>
<line x1="1135.78" y1="456.50" x2="1135.78" y2="465.80" stroke="#000" stroke-width="2.70"/>
<line x1="1155.57" y1="456.50" x2="1155.57" y2="465.80" stroke="#000" stroke-width="2.70"/>
<line x1="1175.35" y1="456.50" x2="1175.35" y2="465.80" stroke="#000" stroke-width="2.70"/>
<line x1="1195.13" y1="456.50" x2="1195.13" y2="465.80" stroke="#000" stroke-width="2.70"/>
<line x1="1214.92" y1="456.50" x2="1214.92" y2="465.80" stroke="#000" stroke-width="2.70"/>
<line x1="1234.70" y1="456.50" x2="1234.70" y2="470.00" stroke="#000" stroke-width="2.70"/>
<line x1="1254.48" y1="456.50" x2="1254.48" y2="465.80" stroke="#000" stroke-width="2.70"/>
<line x1="1274.27" y1="456.50" x2="1274.27" y2="465.80" stroke="#000" stroke-width="2.70"/>
<line x1="1294.05" y1="456.50" x2="1294.05" y2="465.80" stroke="#000" stroke-width="2.70"/>
<line x1="1313.83" y1="456.50" x2="1313.83" y2="465.80" stroke="#000" stroke-width="2.70"/>
<line x1="1333.62" y1="456.50" x2="1333.62" y2="465.80" stroke="#000" stroke-width="2.70"/>
<line x1="1353.40" y1="456.50" x2="1353.40" y2="470.00" stroke="#000" stroke-width="2.70"/>
<line x1="1373.18" y1="456.50" x2="1373.18" y2="465.80" stroke="#000" stroke-width="2.70"/>
<line x1="1392.97" y1="456.50" x2="1392.97" y2="465.80" stroke="#000" stroke-width="2.70"/>
<line x1="1412.75" y1="456.50" x2="1412.75" y2="465.80" stroke="#000" stroke-width="2.70"/>
<line x1="1432.53" y1="456.50" x2="1432.53" y2="465.80" stroke="#000" stroke-width="2.70"/>
<line x1="1452.32" y1="456.50" x2="1452.32" y2="465.80" stroke="#000" stroke-width="2.70"/>
<line x1="1472.10" y1="456.50" x2="1472.10" y2="470.00" stroke="#000" stroke-width="2.70"/>
<g font-family="Liberation Serif" fill="#000">
<text x="114.50" y="502.10" font-size="32.00" text-anchor="middle" >2.1</text>
<text x="233.20" y="502.10" font-size="32.00" text-anchor="middle" >2.08</text>
<text x="351.90" y="502.10" font-size="32.00" text-anchor="middle" >2.06</text>
<text x="470.60" y="502.10" font-size="32.00" text-anchor="middle" >2.04</text>
<text x="589.30" y="502.10" font-size="32.00" text-anchor="middle" >2.02</text>
<text x="708.00" y="502.10" font-size="32.00" text-anchor="middle" >2</text>
<text x="878.60" y="502.10" font-size="32.00" text-anchor="middle" >6</text>
<text x="997.30" y="502.10" font-size="32.00" text-anchor="middle" >5.95</text>
<text x="1116.00" y="502.10" font-size="32.00" text-anchor="middle" >5.9</text>
<text x="1234.70" y="502.10" font-size="32.00" text-anchor="middle" >5.85</text>
<text x="1353.40" y="502.10" font-size="32.00" text-anchor="middle" >5.8</text>
<text x="1472.10" y="502.10" font-size="32.00" text-anchor="middle" >5.75</text>
<text x="90.00" y="28.10" font-size="32.00" text-anchor="end" >12</text>
<text x="90.00" y="94.60" font-size="32.00" text-anchor="end" >10</text>
<text x="90.00" y="161.10" font-size="32.00" text-anchor="end" >8</text>
<text x="90.00" y="227.60" font-size="32.00" text-anchor="end" >6</text>
<text x="90.00" y="294.10" font-size="32.00" text-anchor="end" >4</text>
<text x="90.00" y="360.60" font-size="32.00" text-anchor="end" >2</text>
<text x="90.00" y="427.10" font-size="32.00" text-anchor="end" >0</text>
<text x="854.20" y="28.10" font-size="32.00" text-anchor="end" >15</text>
<text x="854.20" y="159.40" font-size="32.00" text-anchor="end" >10</text>
<text x="854.20" y="290.70" font-size="32.00" text-anchor="end" >5</text>
<text x="854.20" y="421.90" font-size="32.00" text-anchor="end" >0</text>
<text x="411.50" y="540.20" font-size="34.00" text-anchor="middle" textLength="71" lengthAdjust="spacingAndGlyphs">ppm</text>
<text x="1175.50" y="540.20" font-size="34.00" text-anchor="middle" textLength="71" lengthAdjust="spacingAndGlyphs">ppm</text>
<text x="408.80" y="597.30" font-size="41.00" text-anchor="middle" >(a)</text>
<text x="1173.80" y="597.30" font-size="41.00" text-anchor="middle" >(b)</text>
<g transform="translate(30.80,0) rotate(-90)">
<text x="-290.3" y="0" font-size="37">I</text>
<text x="-278.6" y="5.7" font-size="25.5" font-style="italic" textLength="92" lengthAdjust="spacingAndGlyphs">relative</text>
</g>
<g transform="translate(794.60,0) rotate(-90)">
<text x="-290.3" y="0" font-size="37">I</text>
<text x="-278.6" y="5.7" font-size="25.5" font-style="italic" textLength="92" lengthAdjust="spacingAndGlyphs">relative</text>
</g>
</g>
</svg></body></html>
